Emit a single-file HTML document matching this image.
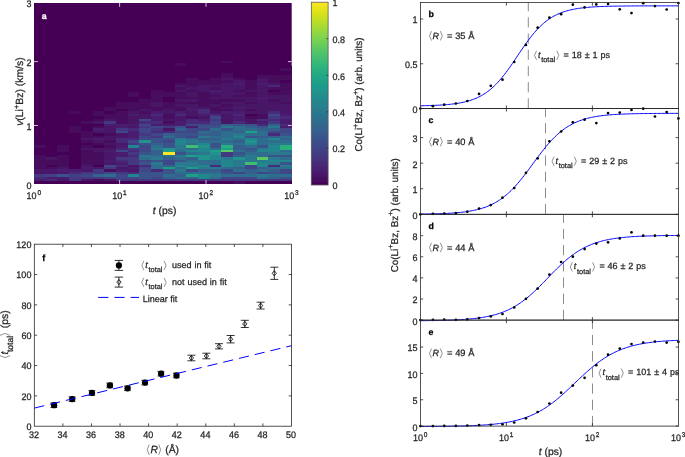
<!DOCTYPE html>
<html><head><meta charset="utf-8"><style>
html,body{margin:0;padding:0;background:#fff;}
svg{display:block;font-family:"Liberation Sans",sans-serif;text-rendering:geometricPrecision;}
</style></head><body>
<svg width="685" height="457" viewBox="0 0 685 457">
<rect width="685" height="457" fill="#fff"/>
<defs><filter id="soft" x="0" y="0" width="100%" height="100%" filterUnits="userSpaceOnUse"><feGaussianBlur stdDeviation="0.3"/></filter></defs>
<g filter="url(#soft)">
<rect x="34.0" y="3.0" width="257.70" height="180.80" fill="#440154"/>
<defs><filter id="hb" x="-2%" y="-2%" width="104%" height="104%"><feGaussianBlur stdDeviation="0.35"/></filter></defs>
<g filter="url(#hb)"><g shape-rendering="crispEdges">
<rect x="221.42" y="60.86" width="11.71" height="2.41" fill="#460a5d"/>
<rect x="174.56" y="63.27" width="11.71" height="2.41" fill="#46085c"/>
<rect x="221.42" y="63.27" width="11.71" height="2.41" fill="#450559"/>
<rect x="174.56" y="65.68" width="11.71" height="2.41" fill="#440256"/>
<rect x="221.42" y="65.68" width="11.71" height="2.41" fill="#450457"/>
<rect x="279.99" y="65.68" width="11.71" height="2.41" fill="#450457"/>
<rect x="174.56" y="68.09" width="11.71" height="2.41" fill="#440256"/>
<rect x="221.42" y="68.09" width="11.71" height="2.41" fill="#450457"/>
<rect x="279.99" y="68.09" width="11.71" height="2.41" fill="#460a5d"/>
<rect x="174.56" y="70.50" width="11.71" height="2.41" fill="#440256"/>
<rect x="221.42" y="70.50" width="11.71" height="2.41" fill="#450457"/>
<rect x="256.56" y="70.50" width="11.71" height="2.41" fill="#450457"/>
<rect x="279.99" y="70.50" width="11.71" height="2.41" fill="#450559"/>
<rect x="139.42" y="72.91" width="11.71" height="2.41" fill="#440256"/>
<rect x="174.56" y="72.91" width="11.71" height="2.41" fill="#440256"/>
<rect x="221.42" y="72.91" width="11.71" height="2.41" fill="#460a5d"/>
<rect x="233.13" y="72.91" width="11.71" height="2.41" fill="#440256"/>
<rect x="256.56" y="72.91" width="11.71" height="2.41" fill="#450559"/>
<rect x="268.27" y="72.91" width="11.71" height="2.41" fill="#450457"/>
<rect x="279.99" y="72.91" width="11.71" height="2.41" fill="#450559"/>
<rect x="139.42" y="75.32" width="11.71" height="2.41" fill="#440256"/>
<rect x="174.56" y="75.32" width="11.71" height="2.41" fill="#440256"/>
<rect x="186.28" y="75.32" width="11.71" height="2.41" fill="#450457"/>
<rect x="209.70" y="75.32" width="11.71" height="2.41" fill="#450559"/>
<rect x="221.42" y="75.32" width="11.71" height="2.41" fill="#46085c"/>
<rect x="233.13" y="75.32" width="11.71" height="2.41" fill="#450559"/>
<rect x="244.85" y="75.32" width="11.71" height="2.41" fill="#450457"/>
<rect x="256.56" y="75.32" width="11.71" height="2.41" fill="#460a5d"/>
<rect x="268.27" y="75.32" width="11.71" height="2.41" fill="#46085c"/>
<rect x="279.99" y="75.32" width="11.71" height="2.41" fill="#46085c"/>
<rect x="139.42" y="77.73" width="11.71" height="2.41" fill="#440256"/>
<rect x="174.56" y="77.73" width="11.71" height="2.41" fill="#440256"/>
<rect x="186.28" y="77.73" width="11.71" height="2.41" fill="#470e61"/>
<rect x="197.99" y="77.73" width="11.71" height="2.41" fill="#450559"/>
<rect x="209.70" y="77.73" width="11.71" height="2.41" fill="#470e61"/>
<rect x="221.42" y="77.73" width="11.71" height="2.41" fill="#48186a"/>
<rect x="233.13" y="77.73" width="11.71" height="2.41" fill="#46085c"/>
<rect x="244.85" y="77.73" width="11.71" height="2.41" fill="#450559"/>
<rect x="256.56" y="77.73" width="11.71" height="2.41" fill="#48186a"/>
<rect x="268.27" y="77.73" width="11.71" height="2.41" fill="#46085c"/>
<rect x="279.99" y="77.73" width="11.71" height="2.41" fill="#46085c"/>
<rect x="139.42" y="80.14" width="11.71" height="2.41" fill="#440256"/>
<rect x="174.56" y="80.14" width="11.71" height="2.41" fill="#450559"/>
<rect x="186.28" y="80.14" width="11.71" height="2.41" fill="#46085c"/>
<rect x="197.99" y="80.14" width="11.71" height="2.41" fill="#46085c"/>
<rect x="209.70" y="80.14" width="11.71" height="2.41" fill="#460a5d"/>
<rect x="221.42" y="80.14" width="11.71" height="2.41" fill="#470e61"/>
<rect x="233.13" y="80.14" width="11.71" height="2.41" fill="#48186a"/>
<rect x="244.85" y="80.14" width="11.71" height="2.41" fill="#46085c"/>
<rect x="256.56" y="80.14" width="11.71" height="2.41" fill="#48186a"/>
<rect x="268.27" y="80.14" width="11.71" height="2.41" fill="#460a5d"/>
<rect x="279.99" y="80.14" width="11.71" height="2.41" fill="#450559"/>
<rect x="139.42" y="82.55" width="11.71" height="2.41" fill="#440256"/>
<rect x="174.56" y="82.55" width="11.71" height="2.41" fill="#46085c"/>
<rect x="186.28" y="82.55" width="11.71" height="2.41" fill="#46085c"/>
<rect x="197.99" y="82.55" width="11.71" height="2.41" fill="#470e61"/>
<rect x="209.70" y="82.55" width="11.71" height="2.41" fill="#470e61"/>
<rect x="221.42" y="82.55" width="11.71" height="2.41" fill="#471365"/>
<rect x="233.13" y="82.55" width="11.71" height="2.41" fill="#481f70"/>
<rect x="244.85" y="82.55" width="11.71" height="2.41" fill="#46085c"/>
<rect x="256.56" y="82.55" width="11.71" height="2.41" fill="#481f70"/>
<rect x="268.27" y="82.55" width="11.71" height="2.41" fill="#471365"/>
<rect x="279.99" y="82.55" width="11.71" height="2.41" fill="#46085c"/>
<rect x="127.71" y="84.96" width="11.71" height="2.41" fill="#440256"/>
<rect x="139.42" y="84.96" width="11.71" height="2.41" fill="#440256"/>
<rect x="174.56" y="84.96" width="11.71" height="2.41" fill="#471365"/>
<rect x="186.28" y="84.96" width="11.71" height="2.41" fill="#470e61"/>
<rect x="197.99" y="84.96" width="11.71" height="2.41" fill="#48186a"/>
<rect x="209.70" y="84.96" width="11.71" height="2.41" fill="#471365"/>
<rect x="221.42" y="84.96" width="11.71" height="2.41" fill="#471365"/>
<rect x="233.13" y="84.96" width="11.71" height="2.41" fill="#48186a"/>
<rect x="244.85" y="84.96" width="11.71" height="2.41" fill="#470e61"/>
<rect x="256.56" y="84.96" width="11.71" height="2.41" fill="#48186a"/>
<rect x="268.27" y="84.96" width="11.71" height="2.41" fill="#472c7a"/>
<rect x="279.99" y="84.96" width="11.71" height="2.41" fill="#460a5d"/>
<rect x="127.71" y="87.37" width="11.71" height="2.41" fill="#450457"/>
<rect x="139.42" y="87.37" width="11.71" height="2.41" fill="#440256"/>
<rect x="151.14" y="87.37" width="11.71" height="2.41" fill="#450457"/>
<rect x="162.85" y="87.37" width="11.71" height="2.41" fill="#450457"/>
<rect x="174.56" y="87.37" width="11.71" height="2.41" fill="#470e61"/>
<rect x="186.28" y="87.37" width="11.71" height="2.41" fill="#471365"/>
<rect x="197.99" y="87.37" width="11.71" height="2.41" fill="#48186a"/>
<rect x="209.70" y="87.37" width="11.71" height="2.41" fill="#470e61"/>
<rect x="221.42" y="87.37" width="11.71" height="2.41" fill="#48186a"/>
<rect x="233.13" y="87.37" width="11.71" height="2.41" fill="#471365"/>
<rect x="244.85" y="87.37" width="11.71" height="2.41" fill="#460a5d"/>
<rect x="256.56" y="87.37" width="11.71" height="2.41" fill="#471365"/>
<rect x="268.27" y="87.37" width="11.71" height="2.41" fill="#470e61"/>
<rect x="279.99" y="87.37" width="11.71" height="2.41" fill="#46085c"/>
<rect x="127.71" y="89.78" width="11.71" height="2.41" fill="#450559"/>
<rect x="139.42" y="89.78" width="11.71" height="2.41" fill="#450457"/>
<rect x="151.14" y="89.78" width="11.71" height="2.41" fill="#460a5d"/>
<rect x="162.85" y="89.78" width="11.71" height="2.41" fill="#450559"/>
<rect x="174.56" y="89.78" width="11.71" height="2.41" fill="#471365"/>
<rect x="186.28" y="89.78" width="11.71" height="2.41" fill="#470e61"/>
<rect x="197.99" y="89.78" width="11.71" height="2.41" fill="#471365"/>
<rect x="209.70" y="89.78" width="11.71" height="2.41" fill="#481f70"/>
<rect x="221.42" y="89.78" width="11.71" height="2.41" fill="#48186a"/>
<rect x="233.13" y="89.78" width="11.71" height="2.41" fill="#470e61"/>
<rect x="244.85" y="89.78" width="11.71" height="2.41" fill="#471365"/>
<rect x="256.56" y="89.78" width="11.71" height="2.41" fill="#48186a"/>
<rect x="268.27" y="89.78" width="11.71" height="2.41" fill="#450559"/>
<rect x="279.99" y="89.78" width="11.71" height="2.41" fill="#470e61"/>
<rect x="104.28" y="92.19" width="11.71" height="2.41" fill="#440256"/>
<rect x="127.71" y="92.19" width="11.71" height="2.41" fill="#470e61"/>
<rect x="139.42" y="92.19" width="11.71" height="2.41" fill="#450457"/>
<rect x="151.14" y="92.19" width="11.71" height="2.41" fill="#46085c"/>
<rect x="162.85" y="92.19" width="11.71" height="2.41" fill="#46085c"/>
<rect x="174.56" y="92.19" width="11.71" height="2.41" fill="#460a5d"/>
<rect x="186.28" y="92.19" width="11.71" height="2.41" fill="#471365"/>
<rect x="197.99" y="92.19" width="11.71" height="2.41" fill="#460a5d"/>
<rect x="209.70" y="92.19" width="11.71" height="2.41" fill="#471365"/>
<rect x="221.42" y="92.19" width="11.71" height="2.41" fill="#471365"/>
<rect x="233.13" y="92.19" width="11.71" height="2.41" fill="#48186a"/>
<rect x="244.85" y="92.19" width="11.71" height="2.41" fill="#46085c"/>
<rect x="256.56" y="92.19" width="11.71" height="2.41" fill="#471365"/>
<rect x="268.27" y="92.19" width="11.71" height="2.41" fill="#46085c"/>
<rect x="279.99" y="92.19" width="11.71" height="2.41" fill="#470e61"/>
<rect x="104.28" y="94.61" width="11.71" height="2.41" fill="#440256"/>
<rect x="127.71" y="94.61" width="11.71" height="2.41" fill="#46085c"/>
<rect x="139.42" y="94.61" width="11.71" height="2.41" fill="#450457"/>
<rect x="151.14" y="94.61" width="11.71" height="2.41" fill="#470d60"/>
<rect x="162.85" y="94.61" width="11.71" height="2.41" fill="#460a5d"/>
<rect x="174.56" y="94.61" width="11.71" height="2.41" fill="#470e61"/>
<rect x="186.28" y="94.61" width="11.71" height="2.41" fill="#471365"/>
<rect x="197.99" y="94.61" width="11.71" height="2.41" fill="#46085c"/>
<rect x="209.70" y="94.61" width="11.71" height="2.41" fill="#470e61"/>
<rect x="221.42" y="94.61" width="11.71" height="2.41" fill="#48186a"/>
<rect x="233.13" y="94.61" width="11.71" height="2.41" fill="#470e61"/>
<rect x="244.85" y="94.61" width="11.71" height="2.41" fill="#470e61"/>
<rect x="256.56" y="94.61" width="11.71" height="2.41" fill="#471365"/>
<rect x="268.27" y="94.61" width="11.71" height="2.41" fill="#471365"/>
<rect x="279.99" y="94.61" width="11.71" height="2.41" fill="#471365"/>
<rect x="104.28" y="97.02" width="11.71" height="2.41" fill="#440256"/>
<rect x="127.71" y="97.02" width="11.71" height="2.41" fill="#450457"/>
<rect x="139.42" y="97.02" width="11.71" height="2.41" fill="#450559"/>
<rect x="151.14" y="97.02" width="11.71" height="2.41" fill="#460a5d"/>
<rect x="162.85" y="97.02" width="11.71" height="2.41" fill="#450559"/>
<rect x="174.56" y="97.02" width="11.71" height="2.41" fill="#46085c"/>
<rect x="186.28" y="97.02" width="11.71" height="2.41" fill="#470e61"/>
<rect x="197.99" y="97.02" width="11.71" height="2.41" fill="#460a5d"/>
<rect x="209.70" y="97.02" width="11.71" height="2.41" fill="#48186a"/>
<rect x="221.42" y="97.02" width="11.71" height="2.41" fill="#471365"/>
<rect x="233.13" y="97.02" width="11.71" height="2.41" fill="#471365"/>
<rect x="244.85" y="97.02" width="11.71" height="2.41" fill="#471365"/>
<rect x="256.56" y="97.02" width="11.71" height="2.41" fill="#481f70"/>
<rect x="268.27" y="97.02" width="11.71" height="2.41" fill="#471365"/>
<rect x="279.99" y="97.02" width="11.71" height="2.41" fill="#471365"/>
<rect x="104.28" y="99.43" width="11.71" height="2.41" fill="#440256"/>
<rect x="116.00" y="99.43" width="11.71" height="2.41" fill="#450559"/>
<rect x="127.71" y="99.43" width="11.71" height="2.41" fill="#450559"/>
<rect x="139.42" y="99.43" width="11.71" height="2.41" fill="#470e61"/>
<rect x="151.14" y="99.43" width="11.71" height="2.41" fill="#46085c"/>
<rect x="162.85" y="99.43" width="11.71" height="2.41" fill="#450559"/>
<rect x="174.56" y="99.43" width="11.71" height="2.41" fill="#471365"/>
<rect x="186.28" y="99.43" width="11.71" height="2.41" fill="#48186a"/>
<rect x="197.99" y="99.43" width="11.71" height="2.41" fill="#470e61"/>
<rect x="209.70" y="99.43" width="11.71" height="2.41" fill="#470e61"/>
<rect x="221.42" y="99.43" width="11.71" height="2.41" fill="#46085c"/>
<rect x="233.13" y="99.43" width="11.71" height="2.41" fill="#470e61"/>
<rect x="244.85" y="99.43" width="11.71" height="2.41" fill="#471365"/>
<rect x="256.56" y="99.43" width="11.71" height="2.41" fill="#48186a"/>
<rect x="268.27" y="99.43" width="11.71" height="2.41" fill="#470e61"/>
<rect x="279.99" y="99.43" width="11.71" height="2.41" fill="#471365"/>
<rect x="104.28" y="101.84" width="11.71" height="2.41" fill="#440256"/>
<rect x="116.00" y="101.84" width="11.71" height="2.41" fill="#460a5d"/>
<rect x="127.71" y="101.84" width="11.71" height="2.41" fill="#46085c"/>
<rect x="139.42" y="101.84" width="11.71" height="2.41" fill="#470e61"/>
<rect x="151.14" y="101.84" width="11.71" height="2.41" fill="#471365"/>
<rect x="162.85" y="101.84" width="11.71" height="2.41" fill="#46085c"/>
<rect x="174.56" y="101.84" width="11.71" height="2.41" fill="#470e61"/>
<rect x="186.28" y="101.84" width="11.71" height="2.41" fill="#460a5d"/>
<rect x="197.99" y="101.84" width="11.71" height="2.41" fill="#460a5d"/>
<rect x="209.70" y="101.84" width="11.71" height="2.41" fill="#460a5d"/>
<rect x="221.42" y="101.84" width="11.71" height="2.41" fill="#48186a"/>
<rect x="233.13" y="101.84" width="11.71" height="2.41" fill="#48186a"/>
<rect x="244.85" y="101.84" width="11.71" height="2.41" fill="#470e61"/>
<rect x="256.56" y="101.84" width="11.71" height="2.41" fill="#471365"/>
<rect x="268.27" y="101.84" width="11.71" height="2.41" fill="#471365"/>
<rect x="279.99" y="101.84" width="11.71" height="2.41" fill="#470e61"/>
<rect x="104.28" y="104.25" width="11.71" height="2.41" fill="#450457"/>
<rect x="116.00" y="104.25" width="11.71" height="2.41" fill="#46085c"/>
<rect x="127.71" y="104.25" width="11.71" height="2.41" fill="#470e61"/>
<rect x="139.42" y="104.25" width="11.71" height="2.41" fill="#46085c"/>
<rect x="151.14" y="104.25" width="11.71" height="2.41" fill="#471365"/>
<rect x="162.85" y="104.25" width="11.71" height="2.41" fill="#460a5d"/>
<rect x="174.56" y="104.25" width="11.71" height="2.41" fill="#471365"/>
<rect x="186.28" y="104.25" width="11.71" height="2.41" fill="#471365"/>
<rect x="197.99" y="104.25" width="11.71" height="2.41" fill="#470e61"/>
<rect x="209.70" y="104.25" width="11.71" height="2.41" fill="#471365"/>
<rect x="221.42" y="104.25" width="11.71" height="2.41" fill="#470e61"/>
<rect x="233.13" y="104.25" width="11.71" height="2.41" fill="#471365"/>
<rect x="244.85" y="104.25" width="11.71" height="2.41" fill="#471365"/>
<rect x="256.56" y="104.25" width="11.71" height="2.41" fill="#471365"/>
<rect x="268.27" y="104.25" width="11.71" height="2.41" fill="#48186a"/>
<rect x="279.99" y="104.25" width="11.71" height="2.41" fill="#471365"/>
<rect x="104.28" y="106.66" width="11.71" height="2.41" fill="#46085c"/>
<rect x="116.00" y="106.66" width="11.71" height="2.41" fill="#460a5d"/>
<rect x="127.71" y="106.66" width="11.71" height="2.41" fill="#46085c"/>
<rect x="139.42" y="106.66" width="11.71" height="2.41" fill="#460a5d"/>
<rect x="151.14" y="106.66" width="11.71" height="2.41" fill="#46085c"/>
<rect x="162.85" y="106.66" width="11.71" height="2.41" fill="#470e61"/>
<rect x="174.56" y="106.66" width="11.71" height="2.41" fill="#470d60"/>
<rect x="186.28" y="106.66" width="11.71" height="2.41" fill="#48186a"/>
<rect x="197.99" y="106.66" width="11.71" height="2.41" fill="#471365"/>
<rect x="209.70" y="106.66" width="11.71" height="2.41" fill="#46085c"/>
<rect x="221.42" y="106.66" width="11.71" height="2.41" fill="#471365"/>
<rect x="233.13" y="106.66" width="11.71" height="2.41" fill="#481f70"/>
<rect x="244.85" y="106.66" width="11.71" height="2.41" fill="#48186a"/>
<rect x="256.56" y="106.66" width="11.71" height="2.41" fill="#471365"/>
<rect x="268.27" y="106.66" width="11.71" height="2.41" fill="#471365"/>
<rect x="279.99" y="106.66" width="11.71" height="2.41" fill="#48186a"/>
<rect x="57.43" y="109.07" width="11.71" height="2.41" fill="#450457"/>
<rect x="69.14" y="109.07" width="11.71" height="2.41" fill="#450559"/>
<rect x="104.28" y="109.07" width="11.71" height="2.41" fill="#46085c"/>
<rect x="116.00" y="109.07" width="11.71" height="2.41" fill="#450559"/>
<rect x="127.71" y="109.07" width="11.71" height="2.41" fill="#460a5d"/>
<rect x="139.42" y="109.07" width="11.71" height="2.41" fill="#471365"/>
<rect x="151.14" y="109.07" width="11.71" height="2.41" fill="#470e61"/>
<rect x="162.85" y="109.07" width="11.71" height="2.41" fill="#471365"/>
<rect x="174.56" y="109.07" width="11.71" height="2.41" fill="#46085c"/>
<rect x="186.28" y="109.07" width="11.71" height="2.41" fill="#481f70"/>
<rect x="197.99" y="109.07" width="11.71" height="2.41" fill="#472c7a"/>
<rect x="209.70" y="109.07" width="11.71" height="2.41" fill="#470e61"/>
<rect x="221.42" y="109.07" width="11.71" height="2.41" fill="#470e61"/>
<rect x="233.13" y="109.07" width="11.71" height="2.41" fill="#48186a"/>
<rect x="244.85" y="109.07" width="11.71" height="2.41" fill="#46085c"/>
<rect x="256.56" y="109.07" width="11.71" height="2.41" fill="#48186a"/>
<rect x="268.27" y="109.07" width="11.71" height="2.41" fill="#48186a"/>
<rect x="279.99" y="109.07" width="11.71" height="2.41" fill="#48186a"/>
<rect x="45.71" y="111.48" width="11.71" height="2.41" fill="#450559"/>
<rect x="57.43" y="111.48" width="11.71" height="2.41" fill="#440256"/>
<rect x="69.14" y="111.48" width="11.71" height="2.41" fill="#46085c"/>
<rect x="92.57" y="111.48" width="11.71" height="2.41" fill="#46085c"/>
<rect x="104.28" y="111.48" width="11.71" height="2.41" fill="#450559"/>
<rect x="116.00" y="111.48" width="11.71" height="2.41" fill="#46085c"/>
<rect x="127.71" y="111.48" width="11.71" height="2.41" fill="#471365"/>
<rect x="139.42" y="111.48" width="11.71" height="2.41" fill="#470e61"/>
<rect x="151.14" y="111.48" width="11.71" height="2.41" fill="#481f70"/>
<rect x="162.85" y="111.48" width="11.71" height="2.41" fill="#471365"/>
<rect x="174.56" y="111.48" width="11.71" height="2.41" fill="#481f70"/>
<rect x="186.28" y="111.48" width="11.71" height="2.41" fill="#471365"/>
<rect x="197.99" y="111.48" width="11.71" height="2.41" fill="#472c7a"/>
<rect x="209.70" y="111.48" width="11.71" height="2.41" fill="#471365"/>
<rect x="221.42" y="111.48" width="11.71" height="2.41" fill="#481f70"/>
<rect x="233.13" y="111.48" width="11.71" height="2.41" fill="#481f70"/>
<rect x="244.85" y="111.48" width="11.71" height="2.41" fill="#471365"/>
<rect x="256.56" y="111.48" width="11.71" height="2.41" fill="#471365"/>
<rect x="268.27" y="111.48" width="11.71" height="2.41" fill="#472c7a"/>
<rect x="279.99" y="111.48" width="11.71" height="2.41" fill="#48186a"/>
<rect x="45.71" y="113.89" width="11.71" height="2.41" fill="#440256"/>
<rect x="57.43" y="113.89" width="11.71" height="2.41" fill="#450559"/>
<rect x="69.14" y="113.89" width="11.71" height="2.41" fill="#450457"/>
<rect x="80.85" y="113.89" width="11.71" height="2.41" fill="#450559"/>
<rect x="92.57" y="113.89" width="11.71" height="2.41" fill="#460a5d"/>
<rect x="104.28" y="113.89" width="11.71" height="2.41" fill="#46085c"/>
<rect x="116.00" y="113.89" width="11.71" height="2.41" fill="#470d60"/>
<rect x="127.71" y="113.89" width="11.71" height="2.41" fill="#481f70"/>
<rect x="139.42" y="113.89" width="11.71" height="2.41" fill="#471365"/>
<rect x="151.14" y="113.89" width="11.71" height="2.41" fill="#472c7a"/>
<rect x="162.85" y="113.89" width="11.71" height="2.41" fill="#46085c"/>
<rect x="174.56" y="113.89" width="11.71" height="2.41" fill="#472c7a"/>
<rect x="186.28" y="113.89" width="11.71" height="2.41" fill="#48186a"/>
<rect x="197.99" y="113.89" width="11.71" height="2.41" fill="#481f70"/>
<rect x="209.70" y="113.89" width="11.71" height="2.41" fill="#472c7a"/>
<rect x="221.42" y="113.89" width="11.71" height="2.41" fill="#471365"/>
<rect x="233.13" y="113.89" width="11.71" height="2.41" fill="#482677"/>
<rect x="244.85" y="113.89" width="11.71" height="2.41" fill="#450457"/>
<rect x="256.56" y="113.89" width="11.71" height="2.41" fill="#470e61"/>
<rect x="268.27" y="113.89" width="11.71" height="2.41" fill="#404688"/>
<rect x="279.99" y="113.89" width="11.71" height="2.41" fill="#481f70"/>
<rect x="34.00" y="116.30" width="11.71" height="2.41" fill="#440256"/>
<rect x="45.71" y="116.30" width="11.71" height="2.41" fill="#440256"/>
<rect x="57.43" y="116.30" width="11.71" height="2.41" fill="#440256"/>
<rect x="69.14" y="116.30" width="11.71" height="2.41" fill="#440256"/>
<rect x="80.85" y="116.30" width="11.71" height="2.41" fill="#450457"/>
<rect x="92.57" y="116.30" width="11.71" height="2.41" fill="#450559"/>
<rect x="104.28" y="116.30" width="11.71" height="2.41" fill="#470e61"/>
<rect x="116.00" y="116.30" width="11.71" height="2.41" fill="#460a5d"/>
<rect x="127.71" y="116.30" width="11.71" height="2.41" fill="#471365"/>
<rect x="139.42" y="116.30" width="11.71" height="2.41" fill="#471365"/>
<rect x="151.14" y="116.30" width="11.71" height="2.41" fill="#481f70"/>
<rect x="162.85" y="116.30" width="11.71" height="2.41" fill="#470e61"/>
<rect x="174.56" y="116.30" width="11.71" height="2.41" fill="#48186a"/>
<rect x="186.28" y="116.30" width="11.71" height="2.41" fill="#470e61"/>
<rect x="197.99" y="116.30" width="11.71" height="2.41" fill="#471365"/>
<rect x="209.70" y="116.30" width="11.71" height="2.41" fill="#404688"/>
<rect x="221.42" y="116.30" width="11.71" height="2.41" fill="#48186a"/>
<rect x="233.13" y="116.30" width="11.71" height="2.41" fill="#481f70"/>
<rect x="244.85" y="116.30" width="11.71" height="2.41" fill="#46085c"/>
<rect x="256.56" y="116.30" width="11.71" height="2.41" fill="#470e61"/>
<rect x="268.27" y="116.30" width="11.71" height="2.41" fill="#443983"/>
<rect x="279.99" y="116.30" width="11.71" height="2.41" fill="#472c7a"/>
<rect x="34.00" y="118.71" width="11.71" height="2.41" fill="#440256"/>
<rect x="45.71" y="118.71" width="11.71" height="2.41" fill="#440256"/>
<rect x="57.43" y="118.71" width="11.71" height="2.41" fill="#440256"/>
<rect x="69.14" y="118.71" width="11.71" height="2.41" fill="#450457"/>
<rect x="80.85" y="118.71" width="11.71" height="2.41" fill="#450559"/>
<rect x="92.57" y="118.71" width="11.71" height="2.41" fill="#46085c"/>
<rect x="104.28" y="118.71" width="11.71" height="2.41" fill="#471365"/>
<rect x="116.00" y="118.71" width="11.71" height="2.41" fill="#470e61"/>
<rect x="127.71" y="118.71" width="11.71" height="2.41" fill="#471365"/>
<rect x="139.42" y="118.71" width="11.71" height="2.41" fill="#404688"/>
<rect x="151.14" y="118.71" width="11.71" height="2.41" fill="#481f70"/>
<rect x="162.85" y="118.71" width="11.71" height="2.41" fill="#471365"/>
<rect x="174.56" y="118.71" width="11.71" height="2.41" fill="#471365"/>
<rect x="186.28" y="118.71" width="11.71" height="2.41" fill="#472c7a"/>
<rect x="197.99" y="118.71" width="11.71" height="2.41" fill="#481f70"/>
<rect x="209.70" y="118.71" width="11.71" height="2.41" fill="#443983"/>
<rect x="221.42" y="118.71" width="11.71" height="2.41" fill="#471365"/>
<rect x="233.13" y="118.71" width="11.71" height="2.41" fill="#481f70"/>
<rect x="244.85" y="118.71" width="11.71" height="2.41" fill="#471365"/>
<rect x="256.56" y="118.71" width="11.71" height="2.41" fill="#472c7a"/>
<rect x="268.27" y="118.71" width="11.71" height="2.41" fill="#472c7a"/>
<rect x="279.99" y="118.71" width="11.71" height="2.41" fill="#481f70"/>
<rect x="34.00" y="121.12" width="11.71" height="2.41" fill="#440256"/>
<rect x="45.71" y="121.12" width="11.71" height="2.41" fill="#440256"/>
<rect x="57.43" y="121.12" width="11.71" height="2.41" fill="#450457"/>
<rect x="69.14" y="121.12" width="11.71" height="2.41" fill="#450457"/>
<rect x="80.85" y="121.12" width="11.71" height="2.41" fill="#470e61"/>
<rect x="92.57" y="121.12" width="11.71" height="2.41" fill="#471365"/>
<rect x="104.28" y="121.12" width="11.71" height="2.41" fill="#443983"/>
<rect x="116.00" y="121.12" width="11.71" height="2.41" fill="#470e61"/>
<rect x="127.71" y="121.12" width="11.71" height="2.41" fill="#471365"/>
<rect x="139.42" y="121.12" width="11.71" height="2.41" fill="#472c7a"/>
<rect x="151.14" y="121.12" width="11.71" height="2.41" fill="#472c7a"/>
<rect x="162.85" y="121.12" width="11.71" height="2.41" fill="#46085c"/>
<rect x="174.56" y="121.12" width="11.71" height="2.41" fill="#481f70"/>
<rect x="186.28" y="121.12" width="11.71" height="2.41" fill="#472c7a"/>
<rect x="197.99" y="121.12" width="11.71" height="2.41" fill="#472c7a"/>
<rect x="209.70" y="121.12" width="11.71" height="2.41" fill="#404688"/>
<rect x="221.42" y="121.12" width="11.71" height="2.41" fill="#471365"/>
<rect x="233.13" y="121.12" width="11.71" height="2.41" fill="#472c7a"/>
<rect x="244.85" y="121.12" width="11.71" height="2.41" fill="#471365"/>
<rect x="256.56" y="121.12" width="11.71" height="2.41" fill="#481f70"/>
<rect x="268.27" y="121.12" width="11.71" height="2.41" fill="#443983"/>
<rect x="279.99" y="121.12" width="11.71" height="2.41" fill="#481f70"/>
<rect x="34.00" y="123.53" width="11.71" height="2.41" fill="#440256"/>
<rect x="45.71" y="123.53" width="11.71" height="2.41" fill="#440256"/>
<rect x="57.43" y="123.53" width="11.71" height="2.41" fill="#450457"/>
<rect x="69.14" y="123.53" width="11.71" height="2.41" fill="#450559"/>
<rect x="80.85" y="123.53" width="11.71" height="2.41" fill="#450457"/>
<rect x="92.57" y="123.53" width="11.71" height="2.41" fill="#450457"/>
<rect x="104.28" y="123.53" width="11.71" height="2.41" fill="#481f70"/>
<rect x="116.00" y="123.53" width="11.71" height="2.41" fill="#481f70"/>
<rect x="127.71" y="123.53" width="11.71" height="2.41" fill="#481f70"/>
<rect x="139.42" y="123.53" width="11.71" height="2.41" fill="#404688"/>
<rect x="151.14" y="123.53" width="11.71" height="2.41" fill="#481f70"/>
<rect x="162.85" y="123.53" width="11.71" height="2.41" fill="#481f70"/>
<rect x="174.56" y="123.53" width="11.71" height="2.41" fill="#481f70"/>
<rect x="186.28" y="123.53" width="11.71" height="2.41" fill="#404688"/>
<rect x="197.99" y="123.53" width="11.71" height="2.41" fill="#404688"/>
<rect x="209.70" y="123.53" width="11.71" height="2.41" fill="#404688"/>
<rect x="221.42" y="123.53" width="11.71" height="2.41" fill="#34608d"/>
<rect x="233.13" y="123.53" width="11.71" height="2.41" fill="#3a538b"/>
<rect x="244.85" y="123.53" width="11.71" height="2.41" fill="#3a538b"/>
<rect x="256.56" y="123.53" width="11.71" height="2.41" fill="#472c7a"/>
<rect x="268.27" y="123.53" width="11.71" height="2.41" fill="#34608d"/>
<rect x="279.99" y="123.53" width="11.71" height="2.41" fill="#472c7a"/>
<rect x="34.00" y="125.94" width="11.71" height="2.41" fill="#440256"/>
<rect x="45.71" y="125.94" width="11.71" height="2.41" fill="#440256"/>
<rect x="57.43" y="125.94" width="11.71" height="2.41" fill="#450457"/>
<rect x="69.14" y="125.94" width="11.71" height="2.41" fill="#460a5d"/>
<rect x="80.85" y="125.94" width="11.71" height="2.41" fill="#450559"/>
<rect x="92.57" y="125.94" width="11.71" height="2.41" fill="#460a5d"/>
<rect x="104.28" y="125.94" width="11.71" height="2.41" fill="#471365"/>
<rect x="116.00" y="125.94" width="11.71" height="2.41" fill="#481f70"/>
<rect x="127.71" y="125.94" width="11.71" height="2.41" fill="#48186a"/>
<rect x="139.42" y="125.94" width="11.71" height="2.41" fill="#443983"/>
<rect x="151.14" y="125.94" width="11.71" height="2.41" fill="#404688"/>
<rect x="162.85" y="125.94" width="11.71" height="2.41" fill="#443983"/>
<rect x="174.56" y="125.94" width="11.71" height="2.41" fill="#3a538b"/>
<rect x="186.28" y="125.94" width="11.71" height="2.41" fill="#481f70"/>
<rect x="197.99" y="125.94" width="11.71" height="2.41" fill="#3a538b"/>
<rect x="209.70" y="125.94" width="11.71" height="2.41" fill="#3a538b"/>
<rect x="221.42" y="125.94" width="11.71" height="2.41" fill="#29798e"/>
<rect x="233.13" y="125.94" width="11.71" height="2.41" fill="#2e6d8e"/>
<rect x="244.85" y="125.94" width="11.71" height="2.41" fill="#34608d"/>
<rect x="256.56" y="125.94" width="11.71" height="2.41" fill="#3a538b"/>
<rect x="268.27" y="125.94" width="11.71" height="2.41" fill="#29798e"/>
<rect x="279.99" y="125.94" width="11.71" height="2.41" fill="#481f70"/>
<rect x="34.00" y="128.35" width="11.71" height="2.41" fill="#440256"/>
<rect x="45.71" y="128.35" width="11.71" height="2.41" fill="#450457"/>
<rect x="57.43" y="128.35" width="11.71" height="2.41" fill="#450457"/>
<rect x="69.14" y="128.35" width="11.71" height="2.41" fill="#46085c"/>
<rect x="80.85" y="128.35" width="11.71" height="2.41" fill="#450559"/>
<rect x="92.57" y="128.35" width="11.71" height="2.41" fill="#481f70"/>
<rect x="104.28" y="128.35" width="11.71" height="2.41" fill="#48186a"/>
<rect x="116.00" y="128.35" width="11.71" height="2.41" fill="#443983"/>
<rect x="127.71" y="128.35" width="11.71" height="2.41" fill="#472c7a"/>
<rect x="139.42" y="128.35" width="11.71" height="2.41" fill="#404688"/>
<rect x="151.14" y="128.35" width="11.71" height="2.41" fill="#443983"/>
<rect x="162.85" y="128.35" width="11.71" height="2.41" fill="#471365"/>
<rect x="174.56" y="128.35" width="11.71" height="2.41" fill="#34608d"/>
<rect x="186.28" y="128.35" width="11.71" height="2.41" fill="#404688"/>
<rect x="197.99" y="128.35" width="11.71" height="2.41" fill="#404688"/>
<rect x="209.70" y="128.35" width="11.71" height="2.41" fill="#2e6d8e"/>
<rect x="221.42" y="128.35" width="11.71" height="2.41" fill="#3a538b"/>
<rect x="233.13" y="128.35" width="11.71" height="2.41" fill="#2e6d8e"/>
<rect x="244.85" y="128.35" width="11.71" height="2.41" fill="#2e6d8e"/>
<rect x="256.56" y="128.35" width="11.71" height="2.41" fill="#34608d"/>
<rect x="268.27" y="128.35" width="11.71" height="2.41" fill="#34608d"/>
<rect x="279.99" y="128.35" width="11.71" height="2.41" fill="#404688"/>
<rect x="34.00" y="130.77" width="11.71" height="2.41" fill="#450457"/>
<rect x="45.71" y="130.77" width="11.71" height="2.41" fill="#450457"/>
<rect x="57.43" y="130.77" width="11.71" height="2.41" fill="#450457"/>
<rect x="69.14" y="130.77" width="11.71" height="2.41" fill="#460a5d"/>
<rect x="80.85" y="130.77" width="11.71" height="2.41" fill="#46085c"/>
<rect x="92.57" y="130.77" width="11.71" height="2.41" fill="#471365"/>
<rect x="104.28" y="130.77" width="11.71" height="2.41" fill="#471365"/>
<rect x="116.00" y="130.77" width="11.71" height="2.41" fill="#404688"/>
<rect x="127.71" y="130.77" width="11.71" height="2.41" fill="#481f70"/>
<rect x="139.42" y="130.77" width="11.71" height="2.41" fill="#404688"/>
<rect x="151.14" y="130.77" width="11.71" height="2.41" fill="#472c7a"/>
<rect x="162.85" y="130.77" width="11.71" height="2.41" fill="#472c7a"/>
<rect x="174.56" y="130.77" width="11.71" height="2.41" fill="#404688"/>
<rect x="186.28" y="130.77" width="11.71" height="2.41" fill="#404688"/>
<rect x="197.99" y="130.77" width="11.71" height="2.41" fill="#2e6d8e"/>
<rect x="209.70" y="130.77" width="11.71" height="2.41" fill="#34608d"/>
<rect x="221.42" y="130.77" width="11.71" height="2.41" fill="#2e6d8e"/>
<rect x="233.13" y="130.77" width="11.71" height="2.41" fill="#34608d"/>
<rect x="244.85" y="130.77" width="11.71" height="2.41" fill="#1fa187"/>
<rect x="256.56" y="130.77" width="11.71" height="2.41" fill="#2e6d8e"/>
<rect x="268.27" y="130.77" width="11.71" height="2.41" fill="#404688"/>
<rect x="279.99" y="130.77" width="11.71" height="2.41" fill="#404688"/>
<rect x="34.00" y="133.18" width="11.71" height="2.41" fill="#450457"/>
<rect x="45.71" y="133.18" width="11.71" height="2.41" fill="#450457"/>
<rect x="57.43" y="133.18" width="11.71" height="2.41" fill="#450457"/>
<rect x="69.14" y="133.18" width="11.71" height="2.41" fill="#450457"/>
<rect x="80.85" y="133.18" width="11.71" height="2.41" fill="#46085c"/>
<rect x="92.57" y="133.18" width="11.71" height="2.41" fill="#450559"/>
<rect x="104.28" y="133.18" width="11.71" height="2.41" fill="#460a5d"/>
<rect x="116.00" y="133.18" width="11.71" height="2.41" fill="#48186a"/>
<rect x="127.71" y="133.18" width="11.71" height="2.41" fill="#481f70"/>
<rect x="139.42" y="133.18" width="11.71" height="2.41" fill="#443983"/>
<rect x="151.14" y="133.18" width="11.71" height="2.41" fill="#404688"/>
<rect x="162.85" y="133.18" width="11.71" height="2.41" fill="#34608d"/>
<rect x="174.56" y="133.18" width="11.71" height="2.41" fill="#3a538b"/>
<rect x="186.28" y="133.18" width="11.71" height="2.41" fill="#3a538b"/>
<rect x="197.99" y="133.18" width="11.71" height="2.41" fill="#34608d"/>
<rect x="209.70" y="133.18" width="11.71" height="2.41" fill="#34608d"/>
<rect x="221.42" y="133.18" width="11.71" height="2.41" fill="#2e6d8e"/>
<rect x="233.13" y="133.18" width="11.71" height="2.41" fill="#29798e"/>
<rect x="244.85" y="133.18" width="11.71" height="2.41" fill="#2e6d8e"/>
<rect x="256.56" y="133.18" width="11.71" height="2.41" fill="#2e6d8e"/>
<rect x="268.27" y="133.18" width="11.71" height="2.41" fill="#472c7a"/>
<rect x="279.99" y="133.18" width="11.71" height="2.41" fill="#3a538b"/>
<rect x="34.00" y="135.59" width="11.71" height="2.41" fill="#450559"/>
<rect x="45.71" y="135.59" width="11.71" height="2.41" fill="#450457"/>
<rect x="57.43" y="135.59" width="11.71" height="2.41" fill="#450457"/>
<rect x="69.14" y="135.59" width="11.71" height="2.41" fill="#450457"/>
<rect x="80.85" y="135.59" width="11.71" height="2.41" fill="#460a5d"/>
<rect x="92.57" y="135.59" width="11.71" height="2.41" fill="#470e61"/>
<rect x="104.28" y="135.59" width="11.71" height="2.41" fill="#471365"/>
<rect x="116.00" y="135.59" width="11.71" height="2.41" fill="#48186a"/>
<rect x="127.71" y="135.59" width="11.71" height="2.41" fill="#481f70"/>
<rect x="139.42" y="135.59" width="11.71" height="2.41" fill="#404688"/>
<rect x="151.14" y="135.59" width="11.71" height="2.41" fill="#443983"/>
<rect x="162.85" y="135.59" width="11.71" height="2.41" fill="#2e6d8e"/>
<rect x="174.56" y="135.59" width="11.71" height="2.41" fill="#3a538b"/>
<rect x="186.28" y="135.59" width="11.71" height="2.41" fill="#404688"/>
<rect x="197.99" y="135.59" width="11.71" height="2.41" fill="#29798e"/>
<rect x="209.70" y="135.59" width="11.71" height="2.41" fill="#2e6d8e"/>
<rect x="221.42" y="135.59" width="11.71" height="2.41" fill="#2e6d8e"/>
<rect x="233.13" y="135.59" width="11.71" height="2.41" fill="#24868e"/>
<rect x="244.85" y="135.59" width="11.71" height="2.41" fill="#3a538b"/>
<rect x="256.56" y="135.59" width="11.71" height="2.41" fill="#34608d"/>
<rect x="268.27" y="135.59" width="11.71" height="2.41" fill="#34608d"/>
<rect x="279.99" y="135.59" width="11.71" height="2.41" fill="#2e6d8e"/>
<rect x="34.00" y="138.00" width="11.71" height="2.41" fill="#450457"/>
<rect x="45.71" y="138.00" width="11.71" height="2.41" fill="#450457"/>
<rect x="57.43" y="138.00" width="11.71" height="2.41" fill="#450457"/>
<rect x="69.14" y="138.00" width="11.71" height="2.41" fill="#450457"/>
<rect x="80.85" y="138.00" width="11.71" height="2.41" fill="#48186a"/>
<rect x="92.57" y="138.00" width="11.71" height="2.41" fill="#481f70"/>
<rect x="104.28" y="138.00" width="11.71" height="2.41" fill="#48186a"/>
<rect x="116.00" y="138.00" width="11.71" height="2.41" fill="#472c7a"/>
<rect x="127.71" y="138.00" width="11.71" height="2.41" fill="#472c7a"/>
<rect x="139.42" y="138.00" width="11.71" height="2.41" fill="#404688"/>
<rect x="151.14" y="138.00" width="11.71" height="2.41" fill="#3a538b"/>
<rect x="162.85" y="138.00" width="11.71" height="2.41" fill="#3a538b"/>
<rect x="174.56" y="138.00" width="11.71" height="2.41" fill="#29798e"/>
<rect x="186.28" y="138.00" width="11.71" height="2.41" fill="#2e6d8e"/>
<rect x="197.99" y="138.00" width="11.71" height="2.41" fill="#34608d"/>
<rect x="209.70" y="138.00" width="11.71" height="2.41" fill="#34608d"/>
<rect x="221.42" y="138.00" width="11.71" height="2.41" fill="#29798e"/>
<rect x="233.13" y="138.00" width="11.71" height="2.41" fill="#2e6d8e"/>
<rect x="244.85" y="138.00" width="11.71" height="2.41" fill="#24868e"/>
<rect x="256.56" y="138.00" width="11.71" height="2.41" fill="#2e6d8e"/>
<rect x="268.27" y="138.00" width="11.71" height="2.41" fill="#24868e"/>
<rect x="279.99" y="138.00" width="11.71" height="2.41" fill="#34608d"/>
<rect x="34.00" y="140.41" width="11.71" height="2.41" fill="#450457"/>
<rect x="45.71" y="140.41" width="11.71" height="2.41" fill="#450457"/>
<rect x="57.43" y="140.41" width="11.71" height="2.41" fill="#450457"/>
<rect x="69.14" y="140.41" width="11.71" height="2.41" fill="#440256"/>
<rect x="80.85" y="140.41" width="11.71" height="2.41" fill="#46085c"/>
<rect x="92.57" y="140.41" width="11.71" height="2.41" fill="#471365"/>
<rect x="104.28" y="140.41" width="11.71" height="2.41" fill="#46085c"/>
<rect x="116.00" y="140.41" width="11.71" height="2.41" fill="#472c7a"/>
<rect x="127.71" y="140.41" width="11.71" height="2.41" fill="#404688"/>
<rect x="139.42" y="140.41" width="11.71" height="2.41" fill="#20938c"/>
<rect x="151.14" y="140.41" width="11.71" height="2.41" fill="#3a538b"/>
<rect x="162.85" y="140.41" width="11.71" height="2.41" fill="#404688"/>
<rect x="174.56" y="140.41" width="11.71" height="2.41" fill="#24868e"/>
<rect x="186.28" y="140.41" width="11.71" height="2.41" fill="#29798e"/>
<rect x="197.99" y="140.41" width="11.71" height="2.41" fill="#2e6d8e"/>
<rect x="209.70" y="140.41" width="11.71" height="2.41" fill="#2e6d8e"/>
<rect x="221.42" y="140.41" width="11.71" height="2.41" fill="#2e6d8e"/>
<rect x="233.13" y="140.41" width="11.71" height="2.41" fill="#34608d"/>
<rect x="244.85" y="140.41" width="11.71" height="2.41" fill="#20938c"/>
<rect x="256.56" y="140.41" width="11.71" height="2.41" fill="#2e6d8e"/>
<rect x="268.27" y="140.41" width="11.71" height="2.41" fill="#2e6d8e"/>
<rect x="279.99" y="140.41" width="11.71" height="2.41" fill="#2e6d8e"/>
<rect x="34.00" y="142.82" width="11.71" height="2.41" fill="#450559"/>
<rect x="45.71" y="142.82" width="11.71" height="2.41" fill="#450457"/>
<rect x="57.43" y="142.82" width="11.71" height="2.41" fill="#450457"/>
<rect x="69.14" y="142.82" width="11.71" height="2.41" fill="#450457"/>
<rect x="80.85" y="142.82" width="11.71" height="2.41" fill="#450559"/>
<rect x="92.57" y="142.82" width="11.71" height="2.41" fill="#460a5d"/>
<rect x="104.28" y="142.82" width="11.71" height="2.41" fill="#471365"/>
<rect x="116.00" y="142.82" width="11.71" height="2.41" fill="#48186a"/>
<rect x="127.71" y="142.82" width="11.71" height="2.41" fill="#443983"/>
<rect x="139.42" y="142.82" width="11.71" height="2.41" fill="#3a538b"/>
<rect x="151.14" y="142.82" width="11.71" height="2.41" fill="#34608d"/>
<rect x="162.85" y="142.82" width="11.71" height="2.41" fill="#3a538b"/>
<rect x="174.56" y="142.82" width="11.71" height="2.41" fill="#24868e"/>
<rect x="186.28" y="142.82" width="11.71" height="2.41" fill="#2e6d8e"/>
<rect x="197.99" y="142.82" width="11.71" height="2.41" fill="#24868e"/>
<rect x="209.70" y="142.82" width="11.71" height="2.41" fill="#3a538b"/>
<rect x="221.42" y="142.82" width="11.71" height="2.41" fill="#29798e"/>
<rect x="233.13" y="142.82" width="11.71" height="2.41" fill="#2e6d8e"/>
<rect x="244.85" y="142.82" width="11.71" height="2.41" fill="#24868e"/>
<rect x="256.56" y="142.82" width="11.71" height="2.41" fill="#2e6d8e"/>
<rect x="268.27" y="142.82" width="11.71" height="2.41" fill="#29798e"/>
<rect x="279.99" y="142.82" width="11.71" height="2.41" fill="#29798e"/>
<rect x="34.00" y="145.23" width="11.71" height="2.41" fill="#46085c"/>
<rect x="45.71" y="145.23" width="11.71" height="2.41" fill="#450457"/>
<rect x="57.43" y="145.23" width="11.71" height="2.41" fill="#46085c"/>
<rect x="69.14" y="145.23" width="11.71" height="2.41" fill="#450457"/>
<rect x="80.85" y="145.23" width="11.71" height="2.41" fill="#46085c"/>
<rect x="92.57" y="145.23" width="11.71" height="2.41" fill="#450457"/>
<rect x="104.28" y="145.23" width="11.71" height="2.41" fill="#470e61"/>
<rect x="116.00" y="145.23" width="11.71" height="2.41" fill="#481f70"/>
<rect x="127.71" y="145.23" width="11.71" height="2.41" fill="#24868e"/>
<rect x="139.42" y="145.23" width="11.71" height="2.41" fill="#404688"/>
<rect x="151.14" y="145.23" width="11.71" height="2.41" fill="#2e6d8e"/>
<rect x="162.85" y="145.23" width="11.71" height="2.41" fill="#3a538b"/>
<rect x="174.56" y="145.23" width="11.71" height="2.41" fill="#29798e"/>
<rect x="186.28" y="145.23" width="11.71" height="2.41" fill="#3fbc73"/>
<rect x="197.99" y="145.23" width="11.71" height="2.41" fill="#20938c"/>
<rect x="209.70" y="145.23" width="11.71" height="2.41" fill="#3a538b"/>
<rect x="221.42" y="145.23" width="11.71" height="2.41" fill="#29af7f"/>
<rect x="233.13" y="145.23" width="11.71" height="2.41" fill="#34608d"/>
<rect x="244.85" y="145.23" width="11.71" height="2.41" fill="#2e6d8e"/>
<rect x="256.56" y="145.23" width="11.71" height="2.41" fill="#3a538b"/>
<rect x="268.27" y="145.23" width="11.71" height="2.41" fill="#24868e"/>
<rect x="279.99" y="145.23" width="11.71" height="2.41" fill="#29af7f"/>
<rect x="34.00" y="147.64" width="11.71" height="2.41" fill="#450559"/>
<rect x="45.71" y="147.64" width="11.71" height="2.41" fill="#450457"/>
<rect x="57.43" y="147.64" width="11.71" height="2.41" fill="#460a5d"/>
<rect x="69.14" y="147.64" width="11.71" height="2.41" fill="#440256"/>
<rect x="80.85" y="147.64" width="11.71" height="2.41" fill="#471365"/>
<rect x="92.57" y="147.64" width="11.71" height="2.41" fill="#48186a"/>
<rect x="104.28" y="147.64" width="11.71" height="2.41" fill="#471365"/>
<rect x="116.00" y="147.64" width="11.71" height="2.41" fill="#482677"/>
<rect x="127.71" y="147.64" width="11.71" height="2.41" fill="#443983"/>
<rect x="139.42" y="147.64" width="11.71" height="2.41" fill="#404688"/>
<rect x="151.14" y="147.64" width="11.71" height="2.41" fill="#29798e"/>
<rect x="162.85" y="147.64" width="11.71" height="2.41" fill="#20938c"/>
<rect x="174.56" y="147.64" width="11.71" height="2.41" fill="#29798e"/>
<rect x="186.28" y="147.64" width="11.71" height="2.41" fill="#2e6d8e"/>
<rect x="197.99" y="147.64" width="11.71" height="2.41" fill="#24868e"/>
<rect x="209.70" y="147.64" width="11.71" height="2.41" fill="#2e6d8e"/>
<rect x="221.42" y="147.64" width="11.71" height="2.41" fill="#1fa187"/>
<rect x="233.13" y="147.64" width="11.71" height="2.41" fill="#34608d"/>
<rect x="244.85" y="147.64" width="11.71" height="2.41" fill="#3a538b"/>
<rect x="256.56" y="147.64" width="11.71" height="2.41" fill="#29798e"/>
<rect x="268.27" y="147.64" width="11.71" height="2.41" fill="#24868e"/>
<rect x="279.99" y="147.64" width="11.71" height="2.41" fill="#29af7f"/>
<rect x="34.00" y="150.05" width="11.71" height="2.41" fill="#450559"/>
<rect x="45.71" y="150.05" width="11.71" height="2.41" fill="#450457"/>
<rect x="57.43" y="150.05" width="11.71" height="2.41" fill="#470e61"/>
<rect x="69.14" y="150.05" width="11.71" height="2.41" fill="#450457"/>
<rect x="80.85" y="150.05" width="11.71" height="2.41" fill="#460a5d"/>
<rect x="92.57" y="150.05" width="11.71" height="2.41" fill="#471365"/>
<rect x="104.28" y="150.05" width="11.71" height="2.41" fill="#481f70"/>
<rect x="116.00" y="150.05" width="11.71" height="2.41" fill="#404688"/>
<rect x="127.71" y="150.05" width="11.71" height="2.41" fill="#472c7a"/>
<rect x="139.42" y="150.05" width="11.71" height="2.41" fill="#404688"/>
<rect x="151.14" y="150.05" width="11.71" height="2.41" fill="#34608d"/>
<rect x="162.85" y="150.05" width="11.71" height="2.41" fill="#1fa187"/>
<rect x="174.56" y="150.05" width="11.71" height="2.41" fill="#2e6d8e"/>
<rect x="186.28" y="150.05" width="11.71" height="2.41" fill="#24868e"/>
<rect x="197.99" y="150.05" width="11.71" height="2.41" fill="#24868e"/>
<rect x="209.70" y="150.05" width="11.71" height="2.41" fill="#1fa187"/>
<rect x="221.42" y="150.05" width="11.71" height="2.41" fill="#5cc863"/>
<rect x="233.13" y="150.05" width="11.71" height="2.41" fill="#2e6d8e"/>
<rect x="244.85" y="150.05" width="11.71" height="2.41" fill="#34608d"/>
<rect x="256.56" y="150.05" width="11.71" height="2.41" fill="#24868e"/>
<rect x="268.27" y="150.05" width="11.71" height="2.41" fill="#24868e"/>
<rect x="279.99" y="150.05" width="11.71" height="2.41" fill="#2e6d8e"/>
<rect x="34.00" y="152.46" width="11.71" height="2.41" fill="#450559"/>
<rect x="45.71" y="152.46" width="11.71" height="2.41" fill="#450559"/>
<rect x="57.43" y="152.46" width="11.71" height="2.41" fill="#450559"/>
<rect x="69.14" y="152.46" width="11.71" height="2.41" fill="#450457"/>
<rect x="80.85" y="152.46" width="11.71" height="2.41" fill="#46085c"/>
<rect x="92.57" y="152.46" width="11.71" height="2.41" fill="#460a5d"/>
<rect x="104.28" y="152.46" width="11.71" height="2.41" fill="#48186a"/>
<rect x="116.00" y="152.46" width="11.71" height="2.41" fill="#481f70"/>
<rect x="127.71" y="152.46" width="11.71" height="2.41" fill="#443983"/>
<rect x="139.42" y="152.46" width="11.71" height="2.41" fill="#3a538b"/>
<rect x="151.14" y="152.46" width="11.71" height="2.41" fill="#34608d"/>
<rect x="162.85" y="152.46" width="11.71" height="2.41" fill="#fde725"/>
<rect x="174.56" y="152.46" width="11.71" height="2.41" fill="#3a538b"/>
<rect x="186.28" y="152.46" width="11.71" height="2.41" fill="#2e6d8e"/>
<rect x="197.99" y="152.46" width="11.71" height="2.41" fill="#29798e"/>
<rect x="209.70" y="152.46" width="11.71" height="2.41" fill="#20938c"/>
<rect x="221.42" y="152.46" width="11.71" height="2.41" fill="#443983"/>
<rect x="233.13" y="152.46" width="11.71" height="2.41" fill="#3a538b"/>
<rect x="244.85" y="152.46" width="11.71" height="2.41" fill="#2e6d8e"/>
<rect x="256.56" y="152.46" width="11.71" height="2.41" fill="#2e6d8e"/>
<rect x="268.27" y="152.46" width="11.71" height="2.41" fill="#29798e"/>
<rect x="279.99" y="152.46" width="11.71" height="2.41" fill="#29798e"/>
<rect x="34.00" y="154.87" width="11.71" height="2.41" fill="#46085c"/>
<rect x="45.71" y="154.87" width="11.71" height="2.41" fill="#450559"/>
<rect x="57.43" y="154.87" width="11.71" height="2.41" fill="#46085c"/>
<rect x="69.14" y="154.87" width="11.71" height="2.41" fill="#450457"/>
<rect x="80.85" y="154.87" width="11.71" height="2.41" fill="#460a5d"/>
<rect x="92.57" y="154.87" width="11.71" height="2.41" fill="#470e61"/>
<rect x="104.28" y="154.87" width="11.71" height="2.41" fill="#48186a"/>
<rect x="116.00" y="154.87" width="11.71" height="2.41" fill="#481f70"/>
<rect x="127.71" y="154.87" width="11.71" height="2.41" fill="#472c7a"/>
<rect x="139.42" y="154.87" width="11.71" height="2.41" fill="#29798e"/>
<rect x="151.14" y="154.87" width="11.71" height="2.41" fill="#2e6d8e"/>
<rect x="162.85" y="154.87" width="11.71" height="2.41" fill="#2e6d8e"/>
<rect x="174.56" y="154.87" width="11.71" height="2.41" fill="#29798e"/>
<rect x="186.28" y="154.87" width="11.71" height="2.41" fill="#1fa187"/>
<rect x="197.99" y="154.87" width="11.71" height="2.41" fill="#20938c"/>
<rect x="209.70" y="154.87" width="11.71" height="2.41" fill="#24868e"/>
<rect x="221.42" y="154.87" width="11.71" height="2.41" fill="#443983"/>
<rect x="233.13" y="154.87" width="11.71" height="2.41" fill="#34608d"/>
<rect x="244.85" y="154.87" width="11.71" height="2.41" fill="#29798e"/>
<rect x="256.56" y="154.87" width="11.71" height="2.41" fill="#2e6d8e"/>
<rect x="268.27" y="154.87" width="11.71" height="2.41" fill="#3a538b"/>
<rect x="279.99" y="154.87" width="11.71" height="2.41" fill="#3a538b"/>
<rect x="34.00" y="157.28" width="11.71" height="2.41" fill="#470e61"/>
<rect x="45.71" y="157.28" width="11.71" height="2.41" fill="#471365"/>
<rect x="57.43" y="157.28" width="11.71" height="2.41" fill="#46085c"/>
<rect x="69.14" y="157.28" width="11.71" height="2.41" fill="#450457"/>
<rect x="80.85" y="157.28" width="11.71" height="2.41" fill="#460a5d"/>
<rect x="92.57" y="157.28" width="11.71" height="2.41" fill="#470e61"/>
<rect x="104.28" y="157.28" width="11.71" height="2.41" fill="#48186a"/>
<rect x="116.00" y="157.28" width="11.71" height="2.41" fill="#443983"/>
<rect x="127.71" y="157.28" width="11.71" height="2.41" fill="#443983"/>
<rect x="139.42" y="157.28" width="11.71" height="2.41" fill="#2e6d8e"/>
<rect x="151.14" y="157.28" width="11.71" height="2.41" fill="#29798e"/>
<rect x="162.85" y="157.28" width="11.71" height="2.41" fill="#34608d"/>
<rect x="174.56" y="157.28" width="11.71" height="2.41" fill="#2e6d8e"/>
<rect x="186.28" y="157.28" width="11.71" height="2.41" fill="#34608d"/>
<rect x="197.99" y="157.28" width="11.71" height="2.41" fill="#20938c"/>
<rect x="209.70" y="157.28" width="11.71" height="2.41" fill="#24868e"/>
<rect x="221.42" y="157.28" width="11.71" height="2.41" fill="#29798e"/>
<rect x="233.13" y="157.28" width="11.71" height="2.41" fill="#20938c"/>
<rect x="244.85" y="157.28" width="11.71" height="2.41" fill="#29798e"/>
<rect x="256.56" y="157.28" width="11.71" height="2.41" fill="#5cc863"/>
<rect x="268.27" y="157.28" width="11.71" height="2.41" fill="#29798e"/>
<rect x="279.99" y="157.28" width="11.71" height="2.41" fill="#2e6d8e"/>
<rect x="34.00" y="159.69" width="11.71" height="2.41" fill="#46085c"/>
<rect x="45.71" y="159.69" width="11.71" height="2.41" fill="#460a5d"/>
<rect x="57.43" y="159.69" width="11.71" height="2.41" fill="#46085c"/>
<rect x="69.14" y="159.69" width="11.71" height="2.41" fill="#450457"/>
<rect x="80.85" y="159.69" width="11.71" height="2.41" fill="#46085c"/>
<rect x="92.57" y="159.69" width="11.71" height="2.41" fill="#470e61"/>
<rect x="104.28" y="159.69" width="11.71" height="2.41" fill="#481f70"/>
<rect x="116.00" y="159.69" width="11.71" height="2.41" fill="#472c7a"/>
<rect x="127.71" y="159.69" width="11.71" height="2.41" fill="#443983"/>
<rect x="139.42" y="159.69" width="11.71" height="2.41" fill="#404688"/>
<rect x="151.14" y="159.69" width="11.71" height="2.41" fill="#3a538b"/>
<rect x="162.85" y="159.69" width="11.71" height="2.41" fill="#404688"/>
<rect x="174.56" y="159.69" width="11.71" height="2.41" fill="#3a538b"/>
<rect x="186.28" y="159.69" width="11.71" height="2.41" fill="#2e6d8e"/>
<rect x="197.99" y="159.69" width="11.71" height="2.41" fill="#2e6d8e"/>
<rect x="209.70" y="159.69" width="11.71" height="2.41" fill="#2e6d8e"/>
<rect x="221.42" y="159.69" width="11.71" height="2.41" fill="#24868e"/>
<rect x="233.13" y="159.69" width="11.71" height="2.41" fill="#29798e"/>
<rect x="244.85" y="159.69" width="11.71" height="2.41" fill="#29798e"/>
<rect x="256.56" y="159.69" width="11.71" height="2.41" fill="#29798e"/>
<rect x="268.27" y="159.69" width="11.71" height="2.41" fill="#24868e"/>
<rect x="279.99" y="159.69" width="11.71" height="2.41" fill="#24868e"/>
<rect x="34.00" y="162.10" width="11.71" height="2.41" fill="#460a5d"/>
<rect x="45.71" y="162.10" width="11.71" height="2.41" fill="#460a5d"/>
<rect x="57.43" y="162.10" width="11.71" height="2.41" fill="#460a5d"/>
<rect x="69.14" y="162.10" width="11.71" height="2.41" fill="#450457"/>
<rect x="80.85" y="162.10" width="11.71" height="2.41" fill="#470e61"/>
<rect x="92.57" y="162.10" width="11.71" height="2.41" fill="#46085c"/>
<rect x="104.28" y="162.10" width="11.71" height="2.41" fill="#48186a"/>
<rect x="116.00" y="162.10" width="11.71" height="2.41" fill="#481f70"/>
<rect x="127.71" y="162.10" width="11.71" height="2.41" fill="#443983"/>
<rect x="139.42" y="162.10" width="11.71" height="2.41" fill="#3a538b"/>
<rect x="151.14" y="162.10" width="11.71" height="2.41" fill="#29798e"/>
<rect x="162.85" y="162.10" width="11.71" height="2.41" fill="#404688"/>
<rect x="174.56" y="162.10" width="11.71" height="2.41" fill="#29798e"/>
<rect x="186.28" y="162.10" width="11.71" height="2.41" fill="#29798e"/>
<rect x="197.99" y="162.10" width="11.71" height="2.41" fill="#2e6d8e"/>
<rect x="209.70" y="162.10" width="11.71" height="2.41" fill="#2e6d8e"/>
<rect x="221.42" y="162.10" width="11.71" height="2.41" fill="#24868e"/>
<rect x="233.13" y="162.10" width="11.71" height="2.41" fill="#29798e"/>
<rect x="244.85" y="162.10" width="11.71" height="2.41" fill="#3fbc73"/>
<rect x="256.56" y="162.10" width="11.71" height="2.41" fill="#24868e"/>
<rect x="268.27" y="162.10" width="11.71" height="2.41" fill="#29798e"/>
<rect x="279.99" y="162.10" width="11.71" height="2.41" fill="#3a538b"/>
<rect x="34.00" y="164.51" width="11.71" height="2.41" fill="#470e61"/>
<rect x="45.71" y="164.51" width="11.71" height="2.41" fill="#450559"/>
<rect x="57.43" y="164.51" width="11.71" height="2.41" fill="#460a5d"/>
<rect x="69.14" y="164.51" width="11.71" height="2.41" fill="#440256"/>
<rect x="80.85" y="164.51" width="11.71" height="2.41" fill="#48186a"/>
<rect x="92.57" y="164.51" width="11.71" height="2.41" fill="#450457"/>
<rect x="104.28" y="164.51" width="11.71" height="2.41" fill="#404688"/>
<rect x="116.00" y="164.51" width="11.71" height="2.41" fill="#472c7a"/>
<rect x="127.71" y="164.51" width="11.71" height="2.41" fill="#48186a"/>
<rect x="139.42" y="164.51" width="11.71" height="2.41" fill="#472c7a"/>
<rect x="151.14" y="164.51" width="11.71" height="2.41" fill="#2e6d8e"/>
<rect x="162.85" y="164.51" width="11.71" height="2.41" fill="#34608d"/>
<rect x="174.56" y="164.51" width="11.71" height="2.41" fill="#24868e"/>
<rect x="186.28" y="164.51" width="11.71" height="2.41" fill="#29798e"/>
<rect x="197.99" y="164.51" width="11.71" height="2.41" fill="#24868e"/>
<rect x="209.70" y="164.51" width="11.71" height="2.41" fill="#472c7a"/>
<rect x="221.42" y="164.51" width="11.71" height="2.41" fill="#24868e"/>
<rect x="233.13" y="164.51" width="11.71" height="2.41" fill="#29798e"/>
<rect x="244.85" y="164.51" width="11.71" height="2.41" fill="#404688"/>
<rect x="256.56" y="164.51" width="11.71" height="2.41" fill="#24868e"/>
<rect x="268.27" y="164.51" width="11.71" height="2.41" fill="#472c7a"/>
<rect x="279.99" y="164.51" width="11.71" height="2.41" fill="#29798e"/>
<rect x="34.00" y="166.93" width="11.71" height="2.41" fill="#470e61"/>
<rect x="45.71" y="166.93" width="11.71" height="2.41" fill="#470e61"/>
<rect x="57.43" y="166.93" width="11.71" height="2.41" fill="#471365"/>
<rect x="69.14" y="166.93" width="11.71" height="2.41" fill="#450559"/>
<rect x="80.85" y="166.93" width="11.71" height="2.41" fill="#481f70"/>
<rect x="92.57" y="166.93" width="11.71" height="2.41" fill="#48186a"/>
<rect x="104.28" y="166.93" width="11.71" height="2.41" fill="#443983"/>
<rect x="116.00" y="166.93" width="11.71" height="2.41" fill="#48186a"/>
<rect x="127.71" y="166.93" width="11.71" height="2.41" fill="#481f70"/>
<rect x="139.42" y="166.93" width="11.71" height="2.41" fill="#404688"/>
<rect x="151.14" y="166.93" width="11.71" height="2.41" fill="#2e6d8e"/>
<rect x="162.85" y="166.93" width="11.71" height="2.41" fill="#1fa187"/>
<rect x="174.56" y="166.93" width="11.71" height="2.41" fill="#2e6d8e"/>
<rect x="186.28" y="166.93" width="11.71" height="2.41" fill="#1fa187"/>
<rect x="197.99" y="166.93" width="11.71" height="2.41" fill="#29798e"/>
<rect x="209.70" y="166.93" width="11.71" height="2.41" fill="#29798e"/>
<rect x="221.42" y="166.93" width="11.71" height="2.41" fill="#2e6d8e"/>
<rect x="233.13" y="166.93" width="11.71" height="2.41" fill="#34608d"/>
<rect x="244.85" y="166.93" width="11.71" height="2.41" fill="#404688"/>
<rect x="256.56" y="166.93" width="11.71" height="2.41" fill="#34608d"/>
<rect x="268.27" y="166.93" width="11.71" height="2.41" fill="#2e6d8e"/>
<rect x="279.99" y="166.93" width="11.71" height="2.41" fill="#2e6d8e"/>
<rect x="34.00" y="169.34" width="11.71" height="2.41" fill="#48186a"/>
<rect x="45.71" y="169.34" width="11.71" height="2.41" fill="#48186a"/>
<rect x="57.43" y="169.34" width="11.71" height="2.41" fill="#481f70"/>
<rect x="69.14" y="169.34" width="11.71" height="2.41" fill="#481f70"/>
<rect x="80.85" y="169.34" width="11.71" height="2.41" fill="#48186a"/>
<rect x="92.57" y="169.34" width="11.71" height="2.41" fill="#443983"/>
<rect x="104.28" y="169.34" width="11.71" height="2.41" fill="#46085c"/>
<rect x="116.00" y="169.34" width="11.71" height="2.41" fill="#481f70"/>
<rect x="127.71" y="169.34" width="11.71" height="2.41" fill="#48186a"/>
<rect x="139.42" y="169.34" width="11.71" height="2.41" fill="#404688"/>
<rect x="151.14" y="169.34" width="11.71" height="2.41" fill="#472c7a"/>
<rect x="162.85" y="169.34" width="11.71" height="2.41" fill="#3a538b"/>
<rect x="174.56" y="169.34" width="11.71" height="2.41" fill="#29798e"/>
<rect x="186.28" y="169.34" width="11.71" height="2.41" fill="#404688"/>
<rect x="197.99" y="169.34" width="11.71" height="2.41" fill="#34608d"/>
<rect x="209.70" y="169.34" width="11.71" height="2.41" fill="#34608d"/>
<rect x="221.42" y="169.34" width="11.71" height="2.41" fill="#404688"/>
<rect x="233.13" y="169.34" width="11.71" height="2.41" fill="#2e6d8e"/>
<rect x="244.85" y="169.34" width="11.71" height="2.41" fill="#34608d"/>
<rect x="256.56" y="169.34" width="11.71" height="2.41" fill="#2e6d8e"/>
<rect x="268.27" y="169.34" width="11.71" height="2.41" fill="#34608d"/>
<rect x="279.99" y="169.34" width="11.71" height="2.41" fill="#404688"/>
<rect x="34.00" y="171.75" width="11.71" height="2.41" fill="#48186a"/>
<rect x="45.71" y="171.75" width="11.71" height="2.41" fill="#48186a"/>
<rect x="57.43" y="171.75" width="11.71" height="2.41" fill="#48186a"/>
<rect x="69.14" y="171.75" width="11.71" height="2.41" fill="#472c7a"/>
<rect x="80.85" y="171.75" width="11.71" height="2.41" fill="#443983"/>
<rect x="92.57" y="171.75" width="11.71" height="2.41" fill="#443983"/>
<rect x="104.28" y="171.75" width="11.71" height="2.41" fill="#404688"/>
<rect x="116.00" y="171.75" width="11.71" height="2.41" fill="#443983"/>
<rect x="127.71" y="171.75" width="11.71" height="2.41" fill="#472c7a"/>
<rect x="139.42" y="171.75" width="11.71" height="2.41" fill="#3a538b"/>
<rect x="151.14" y="171.75" width="11.71" height="2.41" fill="#3a538b"/>
<rect x="162.85" y="171.75" width="11.71" height="2.41" fill="#3a538b"/>
<rect x="174.56" y="171.75" width="11.71" height="2.41" fill="#2e6d8e"/>
<rect x="186.28" y="171.75" width="11.71" height="2.41" fill="#2e6d8e"/>
<rect x="197.99" y="171.75" width="11.71" height="2.41" fill="#2e6d8e"/>
<rect x="209.70" y="171.75" width="11.71" height="2.41" fill="#2e6d8e"/>
<rect x="221.42" y="171.75" width="11.71" height="2.41" fill="#3a538b"/>
<rect x="233.13" y="171.75" width="11.71" height="2.41" fill="#404688"/>
<rect x="244.85" y="171.75" width="11.71" height="2.41" fill="#34608d"/>
<rect x="256.56" y="171.75" width="11.71" height="2.41" fill="#404688"/>
<rect x="268.27" y="171.75" width="11.71" height="2.41" fill="#3a538b"/>
<rect x="279.99" y="171.75" width="11.71" height="2.41" fill="#404688"/>
<rect x="34.00" y="174.16" width="11.71" height="2.41" fill="#443983"/>
<rect x="45.71" y="174.16" width="11.71" height="2.41" fill="#424086"/>
<rect x="57.43" y="174.16" width="11.71" height="2.41" fill="#3a538b"/>
<rect x="69.14" y="174.16" width="11.71" height="2.41" fill="#424086"/>
<rect x="80.85" y="174.16" width="11.71" height="2.41" fill="#404688"/>
<rect x="92.57" y="174.16" width="11.71" height="2.41" fill="#32658e"/>
<rect x="104.28" y="174.16" width="11.71" height="2.41" fill="#2e6d8e"/>
<rect x="116.00" y="174.16" width="11.71" height="2.41" fill="#404688"/>
<rect x="127.71" y="174.16" width="11.71" height="2.41" fill="#24868e"/>
<rect x="139.42" y="174.16" width="11.71" height="2.41" fill="#3a538b"/>
<rect x="151.14" y="174.16" width="11.71" height="2.41" fill="#3a538b"/>
<rect x="162.85" y="174.16" width="11.71" height="2.41" fill="#2e6d8e"/>
<rect x="174.56" y="174.16" width="11.71" height="2.41" fill="#34608d"/>
<rect x="186.28" y="174.16" width="11.71" height="2.41" fill="#1fa187"/>
<rect x="197.99" y="174.16" width="11.71" height="2.41" fill="#24868e"/>
<rect x="209.70" y="174.16" width="11.71" height="2.41" fill="#29798e"/>
<rect x="221.42" y="174.16" width="11.71" height="2.41" fill="#2e6d8e"/>
<rect x="233.13" y="174.16" width="11.71" height="2.41" fill="#2e6d8e"/>
<rect x="244.85" y="174.16" width="11.71" height="2.41" fill="#2e6d8e"/>
<rect x="256.56" y="174.16" width="11.71" height="2.41" fill="#29798e"/>
<rect x="268.27" y="174.16" width="11.71" height="2.41" fill="#2e6d8e"/>
<rect x="279.99" y="174.16" width="11.71" height="2.41" fill="#2e6d8e"/>
<rect x="34.00" y="176.57" width="11.71" height="2.41" fill="#472c7a"/>
<rect x="45.71" y="176.57" width="11.71" height="2.41" fill="#481f70"/>
<rect x="57.43" y="176.57" width="11.71" height="2.41" fill="#481f70"/>
<rect x="69.14" y="176.57" width="11.71" height="2.41" fill="#443983"/>
<rect x="80.85" y="176.57" width="11.71" height="2.41" fill="#443983"/>
<rect x="92.57" y="176.57" width="11.71" height="2.41" fill="#443983"/>
<rect x="104.28" y="176.57" width="11.71" height="2.41" fill="#424086"/>
<rect x="116.00" y="176.57" width="11.71" height="2.41" fill="#404688"/>
<rect x="127.71" y="176.57" width="11.71" height="2.41" fill="#404688"/>
<rect x="139.42" y="176.57" width="11.71" height="2.41" fill="#3a538b"/>
<rect x="151.14" y="176.57" width="11.71" height="2.41" fill="#404688"/>
<rect x="162.85" y="176.57" width="11.71" height="2.41" fill="#34608d"/>
<rect x="174.56" y="176.57" width="11.71" height="2.41" fill="#2e6d8e"/>
<rect x="186.28" y="176.57" width="11.71" height="2.41" fill="#34608d"/>
<rect x="197.99" y="176.57" width="11.71" height="2.41" fill="#24868e"/>
<rect x="209.70" y="176.57" width="11.71" height="2.41" fill="#2e6d8e"/>
<rect x="221.42" y="176.57" width="11.71" height="2.41" fill="#404688"/>
<rect x="233.13" y="176.57" width="11.71" height="2.41" fill="#404688"/>
<rect x="244.85" y="176.57" width="11.71" height="2.41" fill="#404688"/>
<rect x="256.56" y="176.57" width="11.71" height="2.41" fill="#2e6d8e"/>
<rect x="268.27" y="176.57" width="11.71" height="2.41" fill="#34608d"/>
<rect x="279.99" y="176.57" width="11.71" height="2.41" fill="#3a538b"/>
<rect x="34.00" y="178.98" width="11.71" height="2.41" fill="#481f70"/>
<rect x="45.71" y="178.98" width="11.71" height="2.41" fill="#472c7a"/>
<rect x="57.43" y="178.98" width="11.71" height="2.41" fill="#48186a"/>
<rect x="69.14" y="178.98" width="11.71" height="2.41" fill="#443983"/>
<rect x="80.85" y="178.98" width="11.71" height="2.41" fill="#471365"/>
<rect x="92.57" y="178.98" width="11.71" height="2.41" fill="#470e61"/>
<rect x="104.28" y="178.98" width="11.71" height="2.41" fill="#471365"/>
<rect x="116.00" y="178.98" width="11.71" height="2.41" fill="#443983"/>
<rect x="127.71" y="178.98" width="11.71" height="2.41" fill="#443983"/>
<rect x="139.42" y="178.98" width="11.71" height="2.41" fill="#443983"/>
<rect x="151.14" y="178.98" width="11.71" height="2.41" fill="#443983"/>
<rect x="162.85" y="178.98" width="11.71" height="2.41" fill="#443983"/>
<rect x="174.56" y="178.98" width="11.71" height="2.41" fill="#443983"/>
<rect x="186.28" y="178.98" width="11.71" height="2.41" fill="#443983"/>
<rect x="197.99" y="178.98" width="11.71" height="2.41" fill="#443983"/>
<rect x="209.70" y="178.98" width="11.71" height="2.41" fill="#443983"/>
<rect x="221.42" y="178.98" width="11.71" height="2.41" fill="#443983"/>
<rect x="233.13" y="178.98" width="11.71" height="2.41" fill="#443983"/>
<rect x="244.85" y="178.98" width="11.71" height="2.41" fill="#443983"/>
<rect x="256.56" y="178.98" width="11.71" height="2.41" fill="#443983"/>
<rect x="268.27" y="178.98" width="11.71" height="2.41" fill="#443983"/>
<rect x="279.99" y="178.98" width="11.71" height="2.41" fill="#443983"/>
<rect x="34.00" y="181.39" width="11.71" height="2.41" fill="#440256"/>
<rect x="45.71" y="181.39" width="11.71" height="2.41" fill="#440256"/>
<rect x="57.43" y="181.39" width="11.71" height="2.41" fill="#440256"/>
<rect x="69.14" y="181.39" width="11.71" height="2.41" fill="#440256"/>
<rect x="80.85" y="181.39" width="11.71" height="2.41" fill="#440256"/>
<rect x="92.57" y="181.39" width="11.71" height="2.41" fill="#440256"/>
<rect x="104.28" y="181.39" width="11.71" height="2.41" fill="#440256"/>
<rect x="116.00" y="181.39" width="11.71" height="2.41" fill="#440256"/>
<rect x="127.71" y="181.39" width="11.71" height="2.41" fill="#440256"/>
<rect x="139.42" y="181.39" width="11.71" height="2.41" fill="#450457"/>
<rect x="151.14" y="181.39" width="11.71" height="2.41" fill="#450457"/>
<rect x="162.85" y="181.39" width="11.71" height="2.41" fill="#440256"/>
<rect x="174.56" y="181.39" width="11.71" height="2.41" fill="#450457"/>
<rect x="186.28" y="181.39" width="11.71" height="2.41" fill="#450457"/>
<rect x="197.99" y="181.39" width="11.71" height="2.41" fill="#450457"/>
<rect x="209.70" y="181.39" width="11.71" height="2.41" fill="#450457"/>
<rect x="221.42" y="181.39" width="11.71" height="2.41" fill="#440256"/>
<rect x="233.13" y="181.39" width="11.71" height="2.41" fill="#46085c"/>
<rect x="244.85" y="181.39" width="11.71" height="2.41" fill="#440256"/>
<rect x="256.56" y="181.39" width="11.71" height="2.41" fill="#440256"/>
<rect x="268.27" y="181.39" width="11.71" height="2.41" fill="#440256"/>
<rect x="279.99" y="181.39" width="11.71" height="2.41" fill="#440256"/>
</g></g>
<line x1="34.00" y1="61.60" x2="37.80" y2="61.60" stroke="#e0d0e8" stroke-width="0.9"/>
<line x1="287.90" y1="61.60" x2="291.70" y2="61.60" stroke="#e0d0e8" stroke-width="0.9"/>
<line x1="34.00" y1="125.50" x2="37.80" y2="125.50" stroke="#e0d0e8" stroke-width="0.9"/>
<line x1="287.90" y1="125.50" x2="291.70" y2="125.50" stroke="#e0d0e8" stroke-width="0.9"/>
<line x1="119.60" y1="183.80" x2="119.60" y2="180.00" stroke="#e0d0e8" stroke-width="0.9"/>
<line x1="119.60" y1="3.00" x2="119.60" y2="6.80" stroke="#e0d0e8" stroke-width="0.9"/>
<line x1="206.00" y1="183.80" x2="206.00" y2="180.00" stroke="#e0d0e8" stroke-width="0.9"/>
<line x1="206.00" y1="3.00" x2="206.00" y2="6.80" stroke="#e0d0e8" stroke-width="0.9"/>
<text x="41.80" y="18.90" font-size="8.8" fill="#ffffff" stroke="#ffffff" stroke-width="0.25" font-weight="bold">a</text>
<text transform="translate(31.40,7.10) scale(1,1.05)" font-size="9" fill="#262626" stroke="#262626" stroke-width="0.25" text-anchor="end">3</text>
<text transform="translate(31.40,65.80) scale(1,1.05)" font-size="9" fill="#262626" stroke="#262626" stroke-width="0.25" text-anchor="end">2</text>
<text transform="translate(31.40,129.90) scale(1,1.05)" font-size="9" fill="#262626" stroke="#262626" stroke-width="0.25" text-anchor="end">1</text>
<text transform="translate(31.40,189.40) scale(1,1.05)" font-size="9" fill="#262626" stroke="#262626" stroke-width="0.25" text-anchor="end">0</text>
<text transform="translate(31.60,199.20) scale(1,1.05)" font-size="9" fill="#262626" stroke="#262626" stroke-width="0.25" text-anchor="middle">10</text>
<text transform="translate(37.40,194.80) scale(1,1.05)" font-size="6.4799999999999995" fill="#262626" stroke="#262626" stroke-width="0.25">0</text>
<text transform="translate(117.20,199.20) scale(1,1.05)" font-size="9" fill="#262626" stroke="#262626" stroke-width="0.25" text-anchor="middle">10</text>
<text transform="translate(123.00,194.80) scale(1,1.05)" font-size="6.4799999999999995" fill="#262626" stroke="#262626" stroke-width="0.25">1</text>
<text transform="translate(203.60,199.20) scale(1,1.05)" font-size="9" fill="#262626" stroke="#262626" stroke-width="0.25" text-anchor="middle">10</text>
<text transform="translate(209.40,194.80) scale(1,1.05)" font-size="6.4799999999999995" fill="#262626" stroke="#262626" stroke-width="0.25">2</text>
<text transform="translate(289.30,199.20) scale(1,1.05)" font-size="9" fill="#262626" stroke="#262626" stroke-width="0.25" text-anchor="middle">10</text>
<text transform="translate(295.10,194.80) scale(1,1.05)" font-size="6.4799999999999995" fill="#262626" stroke="#262626" stroke-width="0.25">3</text>
<text x="164.6" y="213.6" font-size="10.4" fill="#262626" stroke="#262626" stroke-width="0.25" text-anchor="middle"><tspan font-style="italic">t</tspan> (ps)</text>
<text transform="translate(23.4,91.6) rotate(-90)" font-size="10.4" fill="#262626" stroke="#262626" stroke-width="0.25" text-anchor="middle"><tspan font-style="italic">v</tspan>(Li<tspan dy="-4.6" font-size="7.6">+</tspan><tspan dy="4.6">Bz) (km/s)</tspan></text>
<defs><linearGradient id="vg" x1="0" y1="1" x2="0" y2="0"><stop offset="0.0000" stop-color="#440154"/><stop offset="0.0312" stop-color="#470d60"/><stop offset="0.0625" stop-color="#48186a"/><stop offset="0.0938" stop-color="#482374"/><stop offset="0.1250" stop-color="#472d7b"/><stop offset="0.1562" stop-color="#453781"/><stop offset="0.1875" stop-color="#424086"/><stop offset="0.2188" stop-color="#3e4989"/><stop offset="0.2500" stop-color="#3b528b"/><stop offset="0.2812" stop-color="#375b8d"/><stop offset="0.3125" stop-color="#33638d"/><stop offset="0.3438" stop-color="#2f6b8e"/><stop offset="0.3750" stop-color="#2c728e"/><stop offset="0.4062" stop-color="#297a8e"/><stop offset="0.4375" stop-color="#26828e"/><stop offset="0.4688" stop-color="#23898e"/><stop offset="0.5000" stop-color="#21918c"/><stop offset="0.5312" stop-color="#1f988b"/><stop offset="0.5625" stop-color="#1fa088"/><stop offset="0.5938" stop-color="#22a785"/><stop offset="0.6250" stop-color="#28ae80"/><stop offset="0.6562" stop-color="#32b67a"/><stop offset="0.6875" stop-color="#3fbc73"/><stop offset="0.7188" stop-color="#4ec36b"/><stop offset="0.7500" stop-color="#5ec962"/><stop offset="0.7812" stop-color="#70cf57"/><stop offset="0.8125" stop-color="#84d44b"/><stop offset="0.8438" stop-color="#98d83e"/><stop offset="0.8750" stop-color="#addc30"/><stop offset="0.9062" stop-color="#c2df23"/><stop offset="0.9375" stop-color="#d8e219"/><stop offset="0.9688" stop-color="#ece51b"/><stop offset="1.0000" stop-color="#fde725"/></linearGradient><clipPath id="clipe"><rect x="590" y="320" width="88.4" height="106"/></clipPath></defs>
<rect x="311.3" y="2.2" width="16.80" height="182.80" fill="url(#vg)" stroke="#5a5a5a" stroke-width="0.8"/>
<text transform="translate(332.60,188.80) scale(1,1.05)" font-size="9" fill="#262626" stroke="#262626" stroke-width="0.25">0</text>
<line x1="326.30" y1="148.44" x2="328.10" y2="148.44" stroke="#333" stroke-width="0.8"/>
<text transform="translate(332.60,151.70) scale(1,1.05)" font-size="9" fill="#262626" stroke="#262626" stroke-width="0.25">0.2</text>
<line x1="326.30" y1="111.88" x2="328.10" y2="111.88" stroke="#333" stroke-width="0.8"/>
<text transform="translate(332.60,116.00) scale(1,1.05)" font-size="9" fill="#262626" stroke="#262626" stroke-width="0.25">0.4</text>
<line x1="326.30" y1="75.32" x2="328.10" y2="75.32" stroke="#333" stroke-width="0.8"/>
<text transform="translate(332.60,79.60) scale(1,1.05)" font-size="9" fill="#262626" stroke="#262626" stroke-width="0.25">0.6</text>
<line x1="326.30" y1="38.76" x2="328.10" y2="38.76" stroke="#333" stroke-width="0.8"/>
<text transform="translate(332.60,42.70) scale(1,1.05)" font-size="9" fill="#262626" stroke="#262626" stroke-width="0.25">0.8</text>
<text transform="translate(332.60,5.80) scale(1,1.05)" font-size="9" fill="#262626" stroke="#262626" stroke-width="0.25">1</text>
<text transform="translate(362.3,94.5) rotate(-90)" font-size="9.9" fill="#262626" stroke="#262626" stroke-width="0.25" text-anchor="middle">Co(Li<tspan dy="-4.3" font-size="7.4">+</tspan><tspan dy="4.3">Bz, Bz</tspan><tspan dy="-4.3" font-size="7.4">+</tspan><tspan dy="4.3">) (arb. units)</tspan></text>
<line x1="528.30" y1="108.50" x2="528.30" y2="2.60" stroke="#6e6e6e" stroke-width="0.8" stroke-dasharray="10.2 6"/>
<path d="M420.40,105.77 L421.70,105.75 L422.99,105.72 L424.29,105.69 L425.59,105.66 L426.88,105.63 L428.18,105.59 L429.48,105.55 L430.77,105.51 L432.07,105.47 L433.36,105.42 L434.66,105.36 L435.96,105.31 L437.25,105.25 L438.55,105.18 L439.85,105.11 L441.14,105.03 L442.44,104.95 L443.74,104.86 L445.03,104.76 L446.33,104.66 L447.63,104.54 L448.92,104.42 L450.22,104.29 L451.52,104.15 L452.81,104.00 L454.11,103.84 L455.41,103.66 L456.70,103.47 L458.00,103.27 L459.29,103.05 L460.59,102.81 L461.89,102.56 L463.18,102.29 L464.48,101.99 L465.78,101.68 L467.07,101.34 L468.37,100.98 L469.67,100.60 L470.96,100.18 L472.26,99.74 L473.56,99.26 L474.85,98.75 L476.15,98.21 L477.45,97.63 L478.74,97.02 L480.04,96.36 L481.33,95.66 L482.63,94.92 L483.93,94.13 L485.22,93.29 L486.52,92.40 L487.82,91.46 L489.11,90.47 L490.41,89.43 L491.71,88.33 L493.00,87.17 L494.30,85.95 L495.60,84.68 L496.89,83.35 L498.19,81.97 L499.49,80.52 L500.78,79.02 L502.08,77.47 L503.37,75.87 L504.67,74.21 L505.97,72.51 L507.26,70.76 L508.56,68.98 L509.86,67.15 L511.15,65.30 L512.45,63.42 L513.75,61.51 L515.04,59.59 L516.34,57.66 L517.64,55.73 L518.93,53.79 L520.23,51.86 L521.53,49.95 L522.82,48.05 L524.12,46.17 L525.42,44.33 L526.71,42.51 L528.01,40.73 L529.30,39.00 L530.60,37.31 L531.90,35.66 L533.19,34.07 L534.49,32.53 L535.79,31.04 L537.08,29.61 L538.38,28.24 L539.68,26.93 L540.97,25.67 L542.27,24.47 L543.57,23.32 L544.86,22.24 L546.16,21.20 L547.46,20.23 L548.75,19.30 L550.05,18.43 L551.34,17.60 L552.64,16.82 L553.94,16.09 L555.23,15.40 L556.53,14.75 L557.83,14.14 L559.12,13.57 L560.42,13.04 L561.72,12.54 L563.01,12.07 L564.31,11.64 L565.61,11.23 L566.90,10.85 L568.20,10.49 L569.50,10.16 L570.79,9.85 L572.09,9.57 L573.38,9.30 L574.68,9.05 L575.98,8.82 L577.27,8.60 L578.57,8.40 L579.87,8.22 L581.16,8.04 L582.46,7.88 L583.76,7.73 L585.05,7.60 L586.35,7.47 L587.65,7.35 L588.94,7.24 L590.24,7.13 L591.54,7.04 L592.83,6.95 L594.13,6.87 L595.43,6.79 L596.72,6.72 L598.02,6.66 L599.31,6.60 L600.61,6.54 L601.91,6.49 L603.20,6.44 L604.50,6.40 L605.80,6.36 L607.09,6.32 L608.39,6.28 L609.69,6.25 L610.98,6.22 L612.28,6.19 L613.58,6.17 L614.87,6.14 L616.17,6.12 L617.47,6.10 L618.76,6.08 L620.06,6.06 L621.35,6.04 L622.65,6.03 L623.95,6.02 L625.24,6.00 L626.54,5.99 L627.84,5.98 L629.13,5.97 L630.43,5.96 L631.73,5.95 L633.02,5.94 L634.32,5.93 L635.62,5.93 L636.91,5.92 L638.21,5.92 L639.51,5.91 L640.80,5.90 L642.10,5.90 L643.39,5.90 L644.69,5.89 L645.99,5.89 L647.28,5.88 L648.58,5.88 L649.88,5.88 L651.17,5.87 L652.47,5.87 L653.77,5.87 L655.06,5.87 L656.36,5.87 L657.66,5.86 L658.95,5.86 L660.25,5.86 L661.55,5.86 L662.84,5.86 L664.14,5.86 L665.44,5.85 L666.73,5.85 L668.03,5.85 L669.32,5.85 L670.62,5.85 L671.92,5.85 L673.21,5.85 L674.51,5.85 L675.81,5.85 L677.10,5.85 L678.40,5.85" fill="none" stroke="#0000ff" stroke-width="1.0"/>
<circle cx="420.40" cy="108.50" r="1.35" fill="#000"/>
<circle cx="432.93" cy="106.20" r="1.35" fill="#000"/>
<circle cx="444.25" cy="104.70" r="1.35" fill="#000"/>
<circle cx="455.88" cy="103.50" r="1.35" fill="#000"/>
<circle cx="467.31" cy="101.00" r="1.35" fill="#000"/>
<circle cx="479.04" cy="93.90" r="1.35" fill="#000"/>
<circle cx="490.76" cy="85.80" r="1.35" fill="#000"/>
<circle cx="502.49" cy="79.70" r="1.35" fill="#000"/>
<circle cx="514.22" cy="62.00" r="1.35" fill="#000"/>
<circle cx="525.95" cy="44.90" r="1.35" fill="#000"/>
<circle cx="537.67" cy="27.70" r="1.35" fill="#000"/>
<circle cx="549.40" cy="17.70" r="1.35" fill="#000"/>
<circle cx="561.13" cy="14.20" r="1.35" fill="#000"/>
<circle cx="572.85" cy="4.70" r="1.35" fill="#000"/>
<circle cx="584.58" cy="7.40" r="1.35" fill="#000"/>
<circle cx="596.31" cy="4.40" r="1.35" fill="#000"/>
<circle cx="608.04" cy="4.00" r="1.35" fill="#000"/>
<circle cx="619.76" cy="9.30" r="1.35" fill="#000"/>
<circle cx="631.49" cy="13.10" r="1.35" fill="#000"/>
<circle cx="643.22" cy="3.20" r="1.35" fill="#000"/>
<circle cx="654.95" cy="6.10" r="1.35" fill="#000"/>
<circle cx="666.67" cy="9.50" r="1.35" fill="#000"/>
<circle cx="678.40" cy="3.00" r="1.35" fill="#000"/>
<rect x="420.4" y="2.6" width="258.0" height="105.90" fill="none" stroke="#262626" stroke-width="0.8"/>
<line x1="506.40" y1="108.50" x2="506.40" y2="105.50" stroke="#262626" stroke-width="0.8"/>
<line x1="506.40" y1="2.60" x2="506.40" y2="5.60" stroke="#262626" stroke-width="0.8"/>
<line x1="592.40" y1="108.50" x2="592.40" y2="105.50" stroke="#262626" stroke-width="0.8"/>
<line x1="592.40" y1="2.60" x2="592.40" y2="5.60" stroke="#262626" stroke-width="0.8"/>
<line x1="420.40" y1="108.50" x2="423.20" y2="108.50" stroke="#262626" stroke-width="0.8"/>
<line x1="675.60" y1="108.50" x2="678.40" y2="108.50" stroke="#262626" stroke-width="0.8"/>
<text transform="translate(417.60,112.90) scale(1,1.05)" font-size="9" fill="#262626" stroke="#262626" stroke-width="0.25" text-anchor="end">0</text>
<line x1="420.40" y1="63.75" x2="423.20" y2="63.75" stroke="#262626" stroke-width="0.8"/>
<line x1="675.60" y1="63.75" x2="678.40" y2="63.75" stroke="#262626" stroke-width="0.8"/>
<text transform="translate(417.60,68.15) scale(1,1.05)" font-size="9" fill="#262626" stroke="#262626" stroke-width="0.25" text-anchor="end">0.5</text>
<line x1="420.40" y1="19.00" x2="423.20" y2="19.00" stroke="#262626" stroke-width="0.8"/>
<line x1="675.60" y1="19.00" x2="678.40" y2="19.00" stroke="#262626" stroke-width="0.8"/>
<text transform="translate(417.60,23.40) scale(1,1.05)" font-size="9" fill="#262626" stroke="#262626" stroke-width="0.25" text-anchor="end">1</text>
<text x="428.40" y="17.20" font-size="8.8" fill="#000" stroke="#000" stroke-width="0.25" font-weight="bold">b</text>
<path d="M431.50,31.10 L429.50,35.80 L431.50,40.50" fill="none" stroke="#555" stroke-width="0.65"/>
<text x="432.60" y="38.80" font-size="9" fill="#262626" stroke="#262626" stroke-width="0.25" font-style="italic">R</text>
<path d="M440.30,31.10 L442.30,35.80 L440.30,40.50" fill="none" stroke="#555" stroke-width="0.65"/>
<text x="447.10" y="38.80" font-size="9.3" fill="#262626" stroke="#262626" stroke-width="0.25" word-spacing="0.05">= 35 Å</text>
<path d="M536.50,50.80 L534.50,55.30 L536.50,59.80" fill="none" stroke="#555" stroke-width="0.65"/>
<text x="538.00" y="57.60" font-size="9" fill="#262626" stroke="#262626" stroke-width="0.25" font-style="italic">t</text>
<text x="541.20" y="62.00" font-size="7.4" fill="#262626" stroke="#262626" stroke-width="0.25">total</text>
<path d="M556.80,50.80 L558.80,55.30 L556.80,59.80" fill="none" stroke="#555" stroke-width="0.65"/>
<text x="563.60" y="57.60" font-size="9" fill="#262626" stroke="#262626" stroke-width="0.25" word-spacing="0.4">= 18 ± 1 ps</text>
<line x1="545.50" y1="214.30" x2="545.50" y2="108.50" stroke="#6e6e6e" stroke-width="0.8" stroke-dasharray="10.2 6"/>
<path d="M420.40,214.13 L421.70,214.11 L422.99,214.09 L424.29,214.07 L425.59,214.05 L426.88,214.03 L428.18,214.01 L429.48,213.98 L430.77,213.95 L432.07,213.93 L433.36,213.89 L434.66,213.86 L435.96,213.82 L437.25,213.79 L438.55,213.74 L439.85,213.70 L441.14,213.65 L442.44,213.60 L443.74,213.55 L445.03,213.49 L446.33,213.43 L447.63,213.36 L448.92,213.29 L450.22,213.21 L451.52,213.13 L452.81,213.04 L454.11,212.95 L455.41,212.85 L456.70,212.74 L458.00,212.62 L459.29,212.50 L460.59,212.37 L461.89,212.23 L463.18,212.07 L464.48,211.91 L465.78,211.74 L467.07,211.55 L468.37,211.36 L469.67,211.15 L470.96,210.92 L472.26,210.68 L473.56,210.42 L474.85,210.15 L476.15,209.86 L477.45,209.55 L478.74,209.22 L480.04,208.86 L481.33,208.49 L482.63,208.09 L483.93,207.66 L485.22,207.21 L486.52,206.73 L487.82,206.22 L489.11,205.68 L490.41,205.11 L491.71,204.50 L493.00,203.86 L494.30,203.18 L495.60,202.47 L496.89,201.71 L498.19,200.92 L499.49,200.08 L500.78,199.20 L502.08,198.27 L503.37,197.30 L504.67,196.29 L505.97,195.22 L507.26,194.11 L508.56,192.95 L509.86,191.75 L511.15,190.49 L512.45,189.19 L513.75,187.85 L515.04,186.45 L516.34,185.01 L517.64,183.53 L518.93,182.01 L520.23,180.45 L521.53,178.86 L522.82,177.23 L524.12,175.57 L525.42,173.88 L526.71,172.17 L528.01,170.43 L529.30,168.69 L530.60,166.93 L531.90,165.16 L533.19,163.39 L534.49,161.62 L535.79,159.86 L537.08,158.10 L538.38,156.36 L539.68,154.64 L540.97,152.94 L542.27,151.27 L543.57,149.62 L544.86,148.01 L546.16,146.43 L547.46,144.89 L548.75,143.39 L550.05,141.93 L551.34,140.51 L552.64,139.14 L553.94,137.82 L555.23,136.54 L556.53,135.31 L557.83,134.13 L559.12,132.99 L560.42,131.91 L561.72,130.87 L563.01,129.87 L564.31,128.92 L565.61,128.02 L566.90,127.16 L568.20,126.35 L569.50,125.57 L570.79,124.83 L572.09,124.14 L573.38,123.48 L574.68,122.86 L575.98,122.27 L577.27,121.71 L578.57,121.19 L579.87,120.69 L581.16,120.23 L582.46,119.79 L583.76,119.38 L585.05,118.99 L586.35,118.62 L587.65,118.28 L588.94,117.96 L590.24,117.66 L591.54,117.38 L592.83,117.11 L594.13,116.86 L595.43,116.63 L596.72,116.41 L598.02,116.21 L599.31,116.02 L600.61,115.84 L601.91,115.67 L603.20,115.52 L604.50,115.37 L605.80,115.23 L607.09,115.10 L608.39,114.98 L609.69,114.87 L610.98,114.77 L612.28,114.67 L613.58,114.58 L614.87,114.49 L616.17,114.42 L617.47,114.34 L618.76,114.27 L620.06,114.21 L621.35,114.15 L622.65,114.09 L623.95,114.04 L625.24,113.99 L626.54,113.94 L627.84,113.90 L629.13,113.86 L630.43,113.82 L631.73,113.79 L633.02,113.76 L634.32,113.73 L635.62,113.70 L636.91,113.67 L638.21,113.65 L639.51,113.62 L640.80,113.60 L642.10,113.58 L643.39,113.56 L644.69,113.55 L645.99,113.53 L647.28,113.52 L648.58,113.50 L649.88,113.49 L651.17,113.48 L652.47,113.47 L653.77,113.45 L655.06,113.44 L656.36,113.44 L657.66,113.43 L658.95,113.42 L660.25,113.41 L661.55,113.40 L662.84,113.40 L664.14,113.39 L665.44,113.39 L666.73,113.38 L668.03,113.38 L669.32,113.37 L670.62,113.37 L671.92,113.36 L673.21,113.36 L674.51,113.36 L675.81,113.35 L677.10,113.35 L678.40,113.35" fill="none" stroke="#0000ff" stroke-width="1.0"/>
<circle cx="420.40" cy="214.30" r="1.35" fill="#000"/>
<circle cx="432.93" cy="213.80" r="1.35" fill="#000"/>
<circle cx="444.25" cy="213.50" r="1.35" fill="#000"/>
<circle cx="455.88" cy="213.00" r="1.35" fill="#000"/>
<circle cx="467.31" cy="211.70" r="1.35" fill="#000"/>
<circle cx="479.04" cy="208.50" r="1.35" fill="#000"/>
<circle cx="490.76" cy="205.10" r="1.35" fill="#000"/>
<circle cx="502.49" cy="197.70" r="1.35" fill="#000"/>
<circle cx="514.22" cy="188.00" r="1.35" fill="#000"/>
<circle cx="525.95" cy="172.80" r="1.35" fill="#000"/>
<circle cx="537.67" cy="158.30" r="1.35" fill="#000"/>
<circle cx="549.40" cy="141.30" r="1.35" fill="#000"/>
<circle cx="561.13" cy="131.50" r="1.35" fill="#000"/>
<circle cx="572.85" cy="122.30" r="1.35" fill="#000"/>
<circle cx="584.58" cy="119.70" r="1.35" fill="#000"/>
<circle cx="596.31" cy="123.10" r="1.35" fill="#000"/>
<circle cx="608.04" cy="113.10" r="1.35" fill="#000"/>
<circle cx="619.76" cy="112.60" r="1.35" fill="#000"/>
<circle cx="631.49" cy="110.00" r="1.35" fill="#000"/>
<circle cx="643.22" cy="108.70" r="1.35" fill="#000"/>
<circle cx="654.95" cy="116.50" r="1.35" fill="#000"/>
<circle cx="666.67" cy="112.10" r="1.35" fill="#000"/>
<circle cx="678.40" cy="118.40" r="1.35" fill="#000"/>
<rect x="420.4" y="108.5" width="258.0" height="105.80" fill="none" stroke="#262626" stroke-width="0.8"/>
<line x1="506.40" y1="214.30" x2="506.40" y2="211.30" stroke="#262626" stroke-width="0.8"/>
<line x1="506.40" y1="108.50" x2="506.40" y2="111.50" stroke="#262626" stroke-width="0.8"/>
<line x1="592.40" y1="214.30" x2="592.40" y2="211.30" stroke="#262626" stroke-width="0.8"/>
<line x1="592.40" y1="108.50" x2="592.40" y2="111.50" stroke="#262626" stroke-width="0.8"/>
<line x1="420.40" y1="214.30" x2="423.20" y2="214.30" stroke="#262626" stroke-width="0.8"/>
<line x1="675.60" y1="214.30" x2="678.40" y2="214.30" stroke="#262626" stroke-width="0.8"/>
<text transform="translate(417.60,218.70) scale(1,1.05)" font-size="9" fill="#262626" stroke="#262626" stroke-width="0.25" text-anchor="end">0</text>
<line x1="420.40" y1="188.73" x2="423.20" y2="188.73" stroke="#262626" stroke-width="0.8"/>
<line x1="675.60" y1="188.73" x2="678.40" y2="188.73" stroke="#262626" stroke-width="0.8"/>
<text transform="translate(417.60,193.13) scale(1,1.05)" font-size="9" fill="#262626" stroke="#262626" stroke-width="0.25" text-anchor="end">1</text>
<line x1="420.40" y1="163.16" x2="423.20" y2="163.16" stroke="#262626" stroke-width="0.8"/>
<line x1="675.60" y1="163.16" x2="678.40" y2="163.16" stroke="#262626" stroke-width="0.8"/>
<text transform="translate(417.60,167.56) scale(1,1.05)" font-size="9" fill="#262626" stroke="#262626" stroke-width="0.25" text-anchor="end">2</text>
<line x1="420.40" y1="137.59" x2="423.20" y2="137.59" stroke="#262626" stroke-width="0.8"/>
<line x1="675.60" y1="137.59" x2="678.40" y2="137.59" stroke="#262626" stroke-width="0.8"/>
<text transform="translate(417.60,141.99) scale(1,1.05)" font-size="9" fill="#262626" stroke="#262626" stroke-width="0.25" text-anchor="end">3</text>
<text x="428.40" y="123.10" font-size="8.8" fill="#000" stroke="#000" stroke-width="0.25" font-weight="bold">c</text>
<path d="M431.50,137.00 L429.50,141.70 L431.50,146.40" fill="none" stroke="#555" stroke-width="0.65"/>
<text x="432.60" y="144.70" font-size="9" fill="#262626" stroke="#262626" stroke-width="0.25" font-style="italic">R</text>
<path d="M440.30,137.00 L442.30,141.70 L440.30,146.40" fill="none" stroke="#555" stroke-width="0.65"/>
<text x="447.10" y="144.70" font-size="9.3" fill="#262626" stroke="#262626" stroke-width="0.25" word-spacing="0.05">= 40 Å</text>
<path d="M554.00,156.70 L552.00,161.20 L554.00,165.70" fill="none" stroke="#555" stroke-width="0.65"/>
<text x="555.50" y="163.50" font-size="9" fill="#262626" stroke="#262626" stroke-width="0.25" font-style="italic">t</text>
<text x="558.70" y="167.90" font-size="7.4" fill="#262626" stroke="#262626" stroke-width="0.25">total</text>
<path d="M574.30,156.70 L576.30,161.20 L574.30,165.70" fill="none" stroke="#555" stroke-width="0.65"/>
<text x="581.10" y="163.50" font-size="9" fill="#262626" stroke="#262626" stroke-width="0.25" word-spacing="0.4">= 29 ± 2 ps</text>
<line x1="563.50" y1="320.10" x2="563.50" y2="214.30" stroke="#6e6e6e" stroke-width="0.8" stroke-dasharray="10.2 6"/>
<path d="M420.40,320.70 L421.70,320.69 L422.99,320.68 L424.29,320.66 L425.59,320.65 L426.88,320.64 L428.18,320.62 L429.48,320.60 L430.77,320.59 L432.07,320.57 L433.36,320.55 L434.66,320.52 L435.96,320.50 L437.25,320.48 L438.55,320.45 L439.85,320.42 L441.14,320.39 L442.44,320.36 L443.74,320.33 L445.03,320.29 L446.33,320.26 L447.63,320.22 L448.92,320.17 L450.22,320.13 L451.52,320.08 L452.81,320.03 L454.11,319.97 L455.41,319.91 L456.70,319.85 L458.00,319.79 L459.29,319.72 L460.59,319.64 L461.89,319.56 L463.18,319.48 L464.48,319.39 L465.78,319.30 L467.07,319.19 L468.37,319.09 L469.67,318.97 L470.96,318.85 L472.26,318.73 L473.56,318.59 L474.85,318.45 L476.15,318.29 L477.45,318.13 L478.74,317.96 L480.04,317.77 L481.33,317.58 L482.63,317.38 L483.93,317.16 L485.22,316.93 L486.52,316.68 L487.82,316.43 L489.11,316.15 L490.41,315.86 L491.71,315.56 L493.00,315.24 L494.30,314.90 L495.60,314.54 L496.89,314.16 L498.19,313.76 L499.49,313.34 L500.78,312.89 L502.08,312.43 L503.37,311.94 L504.67,311.42 L505.97,310.88 L507.26,310.31 L508.56,309.71 L509.86,309.09 L511.15,308.44 L512.45,307.75 L513.75,307.04 L515.04,306.29 L516.34,305.52 L517.64,304.71 L518.93,303.87 L520.23,303.00 L521.53,302.09 L522.82,301.15 L524.12,300.18 L525.42,299.18 L526.71,298.15 L528.01,297.08 L529.30,295.99 L530.60,294.86 L531.90,293.71 L533.19,292.53 L534.49,291.33 L535.79,290.10 L537.08,288.85 L538.38,287.58 L539.68,286.30 L540.97,285.00 L542.27,283.68 L543.57,282.35 L544.86,281.02 L546.16,279.68 L547.46,278.33 L548.75,276.99 L550.05,275.65 L551.34,274.31 L552.64,272.98 L553.94,271.66 L555.23,270.35 L556.53,269.06 L557.83,267.78 L559.12,266.53 L560.42,265.29 L561.72,264.08 L563.01,262.89 L564.31,261.73 L565.61,260.60 L566.90,259.49 L568.20,258.41 L569.50,257.37 L570.79,256.36 L572.09,255.37 L573.38,254.43 L574.68,253.51 L575.98,252.62 L577.27,251.77 L578.57,250.95 L579.87,250.16 L581.16,249.41 L582.46,248.68 L583.76,247.99 L585.05,247.32 L586.35,246.69 L587.65,246.08 L588.94,245.50 L590.24,244.95 L591.54,244.43 L592.83,243.93 L594.13,243.45 L595.43,243.00 L596.72,242.57 L598.02,242.16 L599.31,241.78 L600.61,241.41 L601.91,241.06 L603.20,240.74 L604.50,240.42 L605.80,240.13 L607.09,239.85 L608.39,239.59 L609.69,239.34 L610.98,239.10 L612.28,238.88 L613.58,238.67 L614.87,238.47 L616.17,238.29 L617.47,238.11 L618.76,237.95 L620.06,237.79 L621.35,237.64 L622.65,237.50 L623.95,237.37 L625.24,237.25 L626.54,237.13 L627.84,237.02 L629.13,236.92 L630.43,236.82 L631.73,236.73 L633.02,236.65 L634.32,236.57 L635.62,236.49 L636.91,236.42 L638.21,236.35 L639.51,236.29 L640.80,236.23 L642.10,236.17 L643.39,236.12 L644.69,236.07 L645.99,236.02 L647.28,235.98 L648.58,235.94 L649.88,235.90 L651.17,235.86 L652.47,235.83 L653.77,235.80 L655.06,235.77 L656.36,235.74 L657.66,235.71 L658.95,235.69 L660.25,235.66 L661.55,235.64 L662.84,235.62 L664.14,235.60 L665.44,235.58 L666.73,235.57 L668.03,235.55 L669.32,235.53 L670.62,235.52 L671.92,235.51 L673.21,235.49 L674.51,235.48 L675.81,235.47 L677.10,235.46 L678.40,235.45" fill="none" stroke="#0000ff" stroke-width="1.0"/>
<circle cx="420.40" cy="320.10" r="1.35" fill="#000"/>
<circle cx="432.93" cy="319.80" r="1.35" fill="#000"/>
<circle cx="444.25" cy="319.60" r="1.35" fill="#000"/>
<circle cx="455.88" cy="319.80" r="1.35" fill="#000"/>
<circle cx="467.31" cy="319.30" r="1.35" fill="#000"/>
<circle cx="479.04" cy="318.00" r="1.35" fill="#000"/>
<circle cx="490.76" cy="316.40" r="1.35" fill="#000"/>
<circle cx="502.49" cy="314.00" r="1.35" fill="#000"/>
<circle cx="514.22" cy="307.50" r="1.35" fill="#000"/>
<circle cx="525.95" cy="298.80" r="1.35" fill="#000"/>
<circle cx="537.67" cy="288.60" r="1.35" fill="#000"/>
<circle cx="549.40" cy="274.60" r="1.35" fill="#000"/>
<circle cx="561.13" cy="262.00" r="1.35" fill="#000"/>
<circle cx="572.85" cy="256.70" r="1.35" fill="#000"/>
<circle cx="584.58" cy="249.10" r="1.35" fill="#000"/>
<circle cx="596.31" cy="243.60" r="1.35" fill="#000"/>
<circle cx="608.04" cy="242.30" r="1.35" fill="#000"/>
<circle cx="619.76" cy="238.40" r="1.35" fill="#000"/>
<circle cx="631.49" cy="232.30" r="1.35" fill="#000"/>
<circle cx="643.22" cy="235.70" r="1.35" fill="#000"/>
<circle cx="654.95" cy="235.70" r="1.35" fill="#000"/>
<circle cx="666.67" cy="235.70" r="1.35" fill="#000"/>
<circle cx="678.40" cy="235.70" r="1.35" fill="#000"/>
<rect x="420.4" y="214.3" width="258.0" height="105.80" fill="none" stroke="#262626" stroke-width="0.8"/>
<line x1="506.40" y1="320.10" x2="506.40" y2="317.10" stroke="#262626" stroke-width="0.8"/>
<line x1="506.40" y1="214.30" x2="506.40" y2="217.30" stroke="#262626" stroke-width="0.8"/>
<line x1="592.40" y1="320.10" x2="592.40" y2="317.10" stroke="#262626" stroke-width="0.8"/>
<line x1="592.40" y1="214.30" x2="592.40" y2="217.30" stroke="#262626" stroke-width="0.8"/>
<line x1="420.40" y1="320.10" x2="423.20" y2="320.10" stroke="#262626" stroke-width="0.8"/>
<line x1="675.60" y1="320.10" x2="678.40" y2="320.10" stroke="#262626" stroke-width="0.8"/>
<text transform="translate(417.60,324.50) scale(1,1.05)" font-size="9" fill="#262626" stroke="#262626" stroke-width="0.25" text-anchor="end">0</text>
<line x1="420.40" y1="299.00" x2="423.20" y2="299.00" stroke="#262626" stroke-width="0.8"/>
<line x1="675.60" y1="299.00" x2="678.40" y2="299.00" stroke="#262626" stroke-width="0.8"/>
<text transform="translate(417.60,303.40) scale(1,1.05)" font-size="9" fill="#262626" stroke="#262626" stroke-width="0.25" text-anchor="end">2</text>
<line x1="420.40" y1="277.90" x2="423.20" y2="277.90" stroke="#262626" stroke-width="0.8"/>
<line x1="675.60" y1="277.90" x2="678.40" y2="277.90" stroke="#262626" stroke-width="0.8"/>
<text transform="translate(417.60,282.30) scale(1,1.05)" font-size="9" fill="#262626" stroke="#262626" stroke-width="0.25" text-anchor="end">4</text>
<line x1="420.40" y1="256.80" x2="423.20" y2="256.80" stroke="#262626" stroke-width="0.8"/>
<line x1="675.60" y1="256.80" x2="678.40" y2="256.80" stroke="#262626" stroke-width="0.8"/>
<text transform="translate(417.60,261.20) scale(1,1.05)" font-size="9" fill="#262626" stroke="#262626" stroke-width="0.25" text-anchor="end">6</text>
<line x1="420.40" y1="235.70" x2="423.20" y2="235.70" stroke="#262626" stroke-width="0.8"/>
<line x1="675.60" y1="235.70" x2="678.40" y2="235.70" stroke="#262626" stroke-width="0.8"/>
<text transform="translate(417.60,240.10) scale(1,1.05)" font-size="9" fill="#262626" stroke="#262626" stroke-width="0.25" text-anchor="end">8</text>
<text x="428.40" y="228.90" font-size="8.8" fill="#000" stroke="#000" stroke-width="0.25" font-weight="bold">d</text>
<path d="M431.50,242.80 L429.50,247.50 L431.50,252.20" fill="none" stroke="#555" stroke-width="0.65"/>
<text x="432.60" y="250.50" font-size="9" fill="#262626" stroke="#262626" stroke-width="0.25" font-style="italic">R</text>
<path d="M440.30,242.80 L442.30,247.50 L440.30,252.20" fill="none" stroke="#555" stroke-width="0.65"/>
<text x="447.10" y="250.50" font-size="9.3" fill="#262626" stroke="#262626" stroke-width="0.25" word-spacing="0.05">= 44 Å</text>
<path d="M572.30,262.40 L570.30,266.90 L572.30,271.40" fill="none" stroke="#555" stroke-width="0.65"/>
<text x="573.80" y="269.20" font-size="9" fill="#262626" stroke="#262626" stroke-width="0.25" font-style="italic">t</text>
<text x="577.00" y="273.60" font-size="7.4" fill="#262626" stroke="#262626" stroke-width="0.25">total</text>
<path d="M592.60,262.40 L594.60,266.90 L592.60,271.40" fill="none" stroke="#555" stroke-width="0.65"/>
<text x="599.40" y="269.20" font-size="9" fill="#262626" stroke="#262626" stroke-width="0.25" word-spacing="0.4">= 46 ± 2 ps</text>
<line x1="592.50" y1="426.10" x2="592.50" y2="320.10" stroke="#6e6e6e" stroke-width="0.8" stroke-dasharray="10.2 6"/>
<path d="M420.40,426.49 L421.70,426.49 L422.99,426.48 L424.29,426.47 L425.59,426.47 L426.88,426.46 L428.18,426.45 L429.48,426.44 L430.77,426.43 L432.07,426.42 L433.36,426.42 L434.66,426.40 L435.96,426.39 L437.25,426.38 L438.55,426.37 L439.85,426.36 L441.14,426.34 L442.44,426.33 L443.74,426.31 L445.03,426.30 L446.33,426.28 L447.63,426.26 L448.92,426.24 L450.22,426.22 L451.52,426.20 L452.81,426.18 L454.11,426.16 L455.41,426.13 L456.70,426.10 L458.00,426.08 L459.29,426.05 L460.59,426.02 L461.89,425.98 L463.18,425.95 L464.48,425.91 L465.78,425.87 L467.07,425.83 L468.37,425.78 L469.67,425.74 L470.96,425.69 L472.26,425.64 L473.56,425.58 L474.85,425.52 L476.15,425.46 L477.45,425.39 L478.74,425.33 L480.04,425.25 L481.33,425.18 L482.63,425.09 L483.93,425.01 L485.22,424.92 L486.52,424.82 L487.82,424.72 L489.11,424.61 L490.41,424.50 L491.71,424.38 L493.00,424.26 L494.30,424.12 L495.60,423.98 L496.89,423.84 L498.19,423.68 L499.49,423.52 L500.78,423.34 L502.08,423.16 L503.37,422.97 L504.67,422.77 L505.97,422.55 L507.26,422.33 L508.56,422.09 L509.86,421.84 L511.15,421.58 L512.45,421.31 L513.75,421.02 L515.04,420.71 L516.34,420.39 L517.64,420.06 L518.93,419.70 L520.23,419.34 L521.53,418.95 L522.82,418.54 L524.12,418.12 L525.42,417.67 L526.71,417.21 L528.01,416.72 L529.30,416.21 L530.60,415.68 L531.90,415.12 L533.19,414.55 L534.49,413.94 L535.79,413.32 L537.08,412.66 L538.38,411.99 L539.68,411.28 L540.97,410.55 L542.27,409.79 L543.57,409.01 L544.86,408.20 L546.16,407.36 L547.46,406.49 L548.75,405.60 L550.05,404.68 L551.34,403.73 L552.64,402.76 L553.94,401.76 L555.23,400.74 L556.53,399.69 L557.83,398.62 L559.12,397.53 L560.42,396.42 L561.72,395.29 L563.01,394.14 L564.31,392.97 L565.61,391.79 L566.90,390.59 L568.20,389.39 L569.50,388.17 L570.79,386.94 L572.09,385.71 L573.38,384.47 L574.68,383.23 L575.98,381.99 L577.27,380.75 L578.57,379.52 L579.87,378.29 L581.16,377.07 L582.46,375.86 L583.76,374.65 L585.05,373.47 L586.35,372.29 L587.65,371.14 L588.94,370.00 L590.24,368.88 L591.54,367.78 L592.83,366.70 L594.13,365.64 L595.43,364.61 L596.72,363.60 L598.02,362.62 L599.31,361.66 L600.61,360.73 L601.91,359.83 L603.20,358.95 L604.50,358.10 L605.80,357.28 L607.09,356.48 L608.39,355.71 L609.69,354.97 L610.98,354.25 L612.28,353.56 L613.58,352.90 L614.87,352.26 L616.17,351.65 L617.47,351.06 L618.76,350.50 L620.06,349.96 L621.35,349.44 L622.65,348.94 L623.95,348.47 L625.24,348.02 L626.54,347.58 L627.84,347.17 L629.13,346.77 L630.43,346.40 L631.73,346.04 L633.02,345.69 L634.32,345.37 L635.62,345.06 L636.91,344.76 L638.21,344.48 L639.51,344.21 L640.80,343.96 L642.10,343.72 L643.39,343.49 L644.69,343.27 L645.99,343.06 L647.28,342.87 L648.58,342.68 L649.88,342.50 L651.17,342.34 L652.47,342.18 L653.77,342.03 L655.06,341.88 L656.36,341.75 L657.66,341.62 L658.95,341.50 L660.25,341.38 L661.55,341.27 L662.84,341.17 L664.14,341.07 L665.44,340.98 L666.73,340.89 L668.03,340.81 L669.32,340.73 L670.62,340.65 L671.92,340.58 L673.21,340.52 L674.51,340.45 L675.81,340.39 L677.10,340.34 L678.40,340.28" fill="none" stroke="#0000ff" stroke-width="1.0"/>
<circle cx="420.40" cy="426.10" r="1.35" fill="#000"/>
<circle cx="432.93" cy="426.10" r="1.35" fill="#000"/>
<circle cx="444.25" cy="425.90" r="1.35" fill="#000"/>
<circle cx="455.88" cy="425.90" r="1.35" fill="#000"/>
<circle cx="467.31" cy="425.60" r="1.35" fill="#000"/>
<circle cx="479.04" cy="425.10" r="1.35" fill="#000"/>
<circle cx="490.76" cy="424.80" r="1.35" fill="#000"/>
<circle cx="502.49" cy="424.30" r="1.35" fill="#000"/>
<circle cx="514.22" cy="422.50" r="1.35" fill="#000"/>
<circle cx="525.95" cy="418.30" r="1.35" fill="#000"/>
<circle cx="537.67" cy="412.00" r="1.35" fill="#000"/>
<circle cx="549.40" cy="403.50" r="1.35" fill="#000"/>
<circle cx="561.13" cy="392.70" r="1.35" fill="#000"/>
<circle cx="572.85" cy="385.60" r="1.35" fill="#000"/>
<circle cx="584.58" cy="377.80" r="1.35" fill="#000"/>
<circle cx="596.31" cy="365.20" r="1.35" fill="#000"/>
<circle cx="608.04" cy="354.70" r="1.35" fill="#000"/>
<circle cx="619.76" cy="348.60" r="1.35" fill="#000"/>
<circle cx="631.49" cy="344.10" r="1.35" fill="#000"/>
<circle cx="643.22" cy="342.60" r="1.35" fill="#000"/>
<circle cx="654.95" cy="341.50" r="1.35" fill="#000"/>
<circle cx="666.67" cy="342.60" r="1.35" fill="#000"/>
<circle cx="678.40" cy="341.80" r="1.35" fill="#000"/>
<rect x="420.4" y="320.1" width="258.0" height="106.00" fill="none" stroke="#262626" stroke-width="0.8"/>
<line x1="506.40" y1="426.10" x2="506.40" y2="423.10" stroke="#262626" stroke-width="0.8"/>
<line x1="506.40" y1="320.10" x2="506.40" y2="323.10" stroke="#262626" stroke-width="0.8"/>
<line x1="592.40" y1="426.10" x2="592.40" y2="423.10" stroke="#262626" stroke-width="0.8"/>
<line x1="592.40" y1="320.10" x2="592.40" y2="323.10" stroke="#262626" stroke-width="0.8"/>
<line x1="420.40" y1="426.10" x2="423.20" y2="426.10" stroke="#262626" stroke-width="0.8"/>
<line x1="675.60" y1="426.10" x2="678.40" y2="426.10" stroke="#262626" stroke-width="0.8"/>
<text transform="translate(417.60,430.50) scale(1,1.05)" font-size="9" fill="#262626" stroke="#262626" stroke-width="0.25" text-anchor="end">0</text>
<line x1="420.40" y1="399.75" x2="423.20" y2="399.75" stroke="#262626" stroke-width="0.8"/>
<line x1="675.60" y1="399.75" x2="678.40" y2="399.75" stroke="#262626" stroke-width="0.8"/>
<text transform="translate(417.60,404.15) scale(1,1.05)" font-size="9" fill="#262626" stroke="#262626" stroke-width="0.25" text-anchor="end">5</text>
<line x1="420.40" y1="373.40" x2="423.20" y2="373.40" stroke="#262626" stroke-width="0.8"/>
<line x1="675.60" y1="373.40" x2="678.40" y2="373.40" stroke="#262626" stroke-width="0.8"/>
<text transform="translate(417.60,377.80) scale(1,1.05)" font-size="9" fill="#262626" stroke="#262626" stroke-width="0.25" text-anchor="end">10</text>
<line x1="420.40" y1="347.05" x2="423.20" y2="347.05" stroke="#262626" stroke-width="0.8"/>
<line x1="675.60" y1="347.05" x2="678.40" y2="347.05" stroke="#262626" stroke-width="0.8"/>
<text transform="translate(417.60,351.45) scale(1,1.05)" font-size="9" fill="#262626" stroke="#262626" stroke-width="0.25" text-anchor="end">15</text>
<text x="428.40" y="334.70" font-size="8.8" fill="#000" stroke="#000" stroke-width="0.25" font-weight="bold">e</text>
<path d="M431.50,348.60 L429.50,353.30 L431.50,358.00" fill="none" stroke="#555" stroke-width="0.65"/>
<text x="432.60" y="356.30" font-size="9" fill="#262626" stroke="#262626" stroke-width="0.25" font-style="italic">R</text>
<path d="M440.30,348.60 L442.30,353.30 L440.30,358.00" fill="none" stroke="#555" stroke-width="0.65"/>
<text x="447.10" y="356.30" font-size="9.3" fill="#262626" stroke="#262626" stroke-width="0.25" word-spacing="0.05">= 49 Å</text>
<g clip-path="url(#clipe)">
<path d="M601.00,368.60 L599.00,373.10 L601.00,377.60" fill="none" stroke="#555" stroke-width="0.65"/>
<text x="602.50" y="375.40" font-size="9" fill="#262626" stroke="#262626" stroke-width="0.25" font-style="italic">t</text>
<text x="605.70" y="379.80" font-size="7.4" fill="#262626" stroke="#262626" stroke-width="0.25">total</text>
<path d="M621.30,368.60 L623.30,373.10 L621.30,377.60" fill="none" stroke="#555" stroke-width="0.65"/>
<text x="628.10" y="375.40" font-size="9" fill="#262626" stroke="#262626" stroke-width="0.25" word-spacing="0.4">= 101 ± 4 ps</text>
</g>
<text transform="translate(418.00,440.90) scale(1,1.05)" font-size="9" fill="#262626" stroke="#262626" stroke-width="0.25" text-anchor="middle">10</text>
<text transform="translate(423.80,436.50) scale(1,1.05)" font-size="6.4799999999999995" fill="#262626" stroke="#262626" stroke-width="0.25">0</text>
<text transform="translate(504.00,440.90) scale(1,1.05)" font-size="9" fill="#262626" stroke="#262626" stroke-width="0.25" text-anchor="middle">10</text>
<text transform="translate(509.80,436.50) scale(1,1.05)" font-size="6.4799999999999995" fill="#262626" stroke="#262626" stroke-width="0.25">1</text>
<text transform="translate(590.00,440.90) scale(1,1.05)" font-size="9" fill="#262626" stroke="#262626" stroke-width="0.25" text-anchor="middle">10</text>
<text transform="translate(595.80,436.50) scale(1,1.05)" font-size="6.4799999999999995" fill="#262626" stroke="#262626" stroke-width="0.25">2</text>
<text transform="translate(676.00,440.90) scale(1,1.05)" font-size="9" fill="#262626" stroke="#262626" stroke-width="0.25" text-anchor="middle">10</text>
<text transform="translate(681.80,436.50) scale(1,1.05)" font-size="6.4799999999999995" fill="#262626" stroke="#262626" stroke-width="0.25">3</text>
<text x="550.5" y="454.8" font-size="10.4" fill="#262626" stroke="#262626" stroke-width="0.25" text-anchor="middle"><tspan font-style="italic">t</tspan> (ps)</text>
<text transform="translate(397.6,215.3) rotate(-90)" font-size="9.9" fill="#262626" stroke="#262626" stroke-width="0.25" text-anchor="middle">Co(Li<tspan dy="-4.3" font-size="7.4">+</tspan><tspan dy="4.3">Bz, Bz</tspan><tspan dy="-4.3" font-size="7.4">+</tspan><tspan dy="4.3">) (arb. units)</tspan></text>
<line x1="53.90" y1="402.90" x2="53.90" y2="407.50" stroke="#000" stroke-width="0.8"/>
<line x1="50.50" y1="402.90" x2="57.30" y2="402.90" stroke="#000" stroke-width="0.8"/>
<line x1="50.50" y1="407.50" x2="57.30" y2="407.50" stroke="#000" stroke-width="0.8"/>
<circle cx="54.10" cy="405.2" r="3.15" fill="#000"/>
<line x1="72.00" y1="396.80" x2="72.00" y2="401.40" stroke="#000" stroke-width="0.8"/>
<line x1="68.60" y1="396.80" x2="75.40" y2="396.80" stroke="#000" stroke-width="0.8"/>
<line x1="68.60" y1="401.40" x2="75.40" y2="401.40" stroke="#000" stroke-width="0.8"/>
<circle cx="72.20" cy="399.1" r="3.15" fill="#000"/>
<line x1="91.80" y1="390.60" x2="91.80" y2="395.20" stroke="#000" stroke-width="0.8"/>
<line x1="88.40" y1="390.60" x2="95.20" y2="390.60" stroke="#000" stroke-width="0.8"/>
<line x1="88.40" y1="395.20" x2="95.20" y2="395.20" stroke="#000" stroke-width="0.8"/>
<circle cx="92.00" cy="392.9" r="3.15" fill="#000"/>
<line x1="109.70" y1="383.10" x2="109.70" y2="387.70" stroke="#000" stroke-width="0.8"/>
<line x1="106.30" y1="383.10" x2="113.10" y2="383.10" stroke="#000" stroke-width="0.8"/>
<line x1="106.30" y1="387.70" x2="113.10" y2="387.70" stroke="#000" stroke-width="0.8"/>
<circle cx="109.90" cy="385.4" r="3.15" fill="#000"/>
<line x1="127.40" y1="386.00" x2="127.40" y2="390.60" stroke="#000" stroke-width="0.8"/>
<line x1="124.00" y1="386.00" x2="130.80" y2="386.00" stroke="#000" stroke-width="0.8"/>
<line x1="124.00" y1="390.60" x2="130.80" y2="390.60" stroke="#000" stroke-width="0.8"/>
<circle cx="127.60" cy="388.3" r="3.15" fill="#000"/>
<line x1="144.80" y1="380.30" x2="144.80" y2="384.90" stroke="#000" stroke-width="0.8"/>
<line x1="141.40" y1="380.30" x2="148.20" y2="380.30" stroke="#000" stroke-width="0.8"/>
<line x1="141.40" y1="384.90" x2="148.20" y2="384.90" stroke="#000" stroke-width="0.8"/>
<circle cx="145.00" cy="382.6" r="3.15" fill="#000"/>
<line x1="160.90" y1="371.40" x2="160.90" y2="376.00" stroke="#000" stroke-width="0.8"/>
<line x1="157.50" y1="371.40" x2="164.30" y2="371.40" stroke="#000" stroke-width="0.8"/>
<line x1="157.50" y1="376.00" x2="164.30" y2="376.00" stroke="#000" stroke-width="0.8"/>
<circle cx="161.10" cy="373.7" r="3.15" fill="#000"/>
<line x1="176.30" y1="373.20" x2="176.30" y2="377.80" stroke="#000" stroke-width="0.8"/>
<line x1="172.90" y1="373.20" x2="179.70" y2="373.20" stroke="#000" stroke-width="0.8"/>
<line x1="172.90" y1="377.80" x2="179.70" y2="377.80" stroke="#000" stroke-width="0.8"/>
<circle cx="176.50" cy="375.5" r="3.15" fill="#000"/>
<line x1="191.40" y1="355.20" x2="191.40" y2="360.80" stroke="#000" stroke-width="0.8"/>
<line x1="187.40" y1="355.20" x2="195.40" y2="355.20" stroke="#000" stroke-width="0.8"/>
<line x1="187.40" y1="360.80" x2="195.40" y2="360.80" stroke="#000" stroke-width="0.8"/>
<path d="M191.4,355.4 L193.5,358.0 L191.4,360.6 L189.3,358.0 Z" fill="none" stroke="#000" stroke-width="0.8"/>
<line x1="206.40" y1="353.20" x2="206.40" y2="358.80" stroke="#000" stroke-width="0.8"/>
<line x1="202.40" y1="353.20" x2="210.40" y2="353.20" stroke="#000" stroke-width="0.8"/>
<line x1="202.40" y1="358.80" x2="210.40" y2="358.80" stroke="#000" stroke-width="0.8"/>
<path d="M206.4,353.4 L208.5,356.0 L206.4,358.6 L204.3,356.0 Z" fill="none" stroke="#000" stroke-width="0.8"/>
<line x1="219.00" y1="343.70" x2="219.00" y2="348.90" stroke="#000" stroke-width="0.8"/>
<line x1="215.00" y1="343.70" x2="223.00" y2="343.70" stroke="#000" stroke-width="0.8"/>
<line x1="215.00" y1="348.90" x2="223.00" y2="348.90" stroke="#000" stroke-width="0.8"/>
<path d="M219.0,343.7 L221.1,346.3 L219.0,348.90000000000003 L216.9,346.3 Z" fill="none" stroke="#000" stroke-width="0.8"/>
<line x1="230.60" y1="335.50" x2="230.60" y2="342.90" stroke="#000" stroke-width="0.8"/>
<line x1="226.60" y1="335.50" x2="234.60" y2="335.50" stroke="#000" stroke-width="0.8"/>
<line x1="226.60" y1="342.90" x2="234.60" y2="342.90" stroke="#000" stroke-width="0.8"/>
<path d="M230.6,336.59999999999997 L232.7,339.2 L230.6,341.8 L228.5,339.2 Z" fill="none" stroke="#000" stroke-width="0.8"/>
<line x1="244.80" y1="320.30" x2="244.80" y2="327.50" stroke="#000" stroke-width="0.8"/>
<line x1="240.80" y1="320.30" x2="248.80" y2="320.30" stroke="#000" stroke-width="0.8"/>
<line x1="240.80" y1="327.50" x2="248.80" y2="327.50" stroke="#000" stroke-width="0.8"/>
<path d="M244.8,321.29999999999995 L246.9,323.9 L244.8,326.5 L242.70000000000002,323.9 Z" fill="none" stroke="#000" stroke-width="0.8"/>
<line x1="260.60" y1="302.20" x2="260.60" y2="309.00" stroke="#000" stroke-width="0.8"/>
<line x1="256.60" y1="302.20" x2="264.60" y2="302.20" stroke="#000" stroke-width="0.8"/>
<line x1="256.60" y1="309.00" x2="264.60" y2="309.00" stroke="#000" stroke-width="0.8"/>
<path d="M260.6,303.0 L262.70000000000005,305.6 L260.6,308.20000000000005 L258.5,305.6 Z" fill="none" stroke="#000" stroke-width="0.8"/>
<line x1="274.30" y1="267.20" x2="274.30" y2="279.40" stroke="#000" stroke-width="0.8"/>
<line x1="270.30" y1="267.20" x2="278.30" y2="267.20" stroke="#000" stroke-width="0.8"/>
<line x1="270.30" y1="279.40" x2="278.30" y2="279.40" stroke="#000" stroke-width="0.8"/>
<path d="M274.3,270.7 L276.40000000000003,273.3 L274.3,275.90000000000003 L272.2,273.3 Z" fill="none" stroke="#000" stroke-width="0.8"/>
<line x1="34.3" y1="408.1" x2="291.5" y2="345.7" stroke="#0000ff" stroke-width="1" stroke-dasharray="10.2 6"/>
<rect x="34.3" y="244.2" width="257.20" height="182.00" fill="none" stroke="#262626" stroke-width="0.8"/>
<text transform="translate(33.90,438.30) scale(1,1.05)" font-size="9" fill="#262626" stroke="#262626" stroke-width="0.25" text-anchor="middle">32</text>
<line x1="62.88" y1="426.20" x2="62.88" y2="423.40" stroke="#262626" stroke-width="0.8"/>
<line x1="62.88" y1="244.20" x2="62.88" y2="247.00" stroke="#262626" stroke-width="0.8"/>
<text transform="translate(62.48,438.30) scale(1,1.05)" font-size="9" fill="#262626" stroke="#262626" stroke-width="0.25" text-anchor="middle">34</text>
<line x1="91.46" y1="426.20" x2="91.46" y2="423.40" stroke="#262626" stroke-width="0.8"/>
<line x1="91.46" y1="244.20" x2="91.46" y2="247.00" stroke="#262626" stroke-width="0.8"/>
<text transform="translate(91.06,438.30) scale(1,1.05)" font-size="9" fill="#262626" stroke="#262626" stroke-width="0.25" text-anchor="middle">36</text>
<line x1="120.03" y1="426.20" x2="120.03" y2="423.40" stroke="#262626" stroke-width="0.8"/>
<line x1="120.03" y1="244.20" x2="120.03" y2="247.00" stroke="#262626" stroke-width="0.8"/>
<text transform="translate(119.63,438.30) scale(1,1.05)" font-size="9" fill="#262626" stroke="#262626" stroke-width="0.25" text-anchor="middle">38</text>
<line x1="148.61" y1="426.20" x2="148.61" y2="423.40" stroke="#262626" stroke-width="0.8"/>
<line x1="148.61" y1="244.20" x2="148.61" y2="247.00" stroke="#262626" stroke-width="0.8"/>
<text transform="translate(148.21,438.30) scale(1,1.05)" font-size="9" fill="#262626" stroke="#262626" stroke-width="0.25" text-anchor="middle">40</text>
<line x1="177.19" y1="426.20" x2="177.19" y2="423.40" stroke="#262626" stroke-width="0.8"/>
<line x1="177.19" y1="244.20" x2="177.19" y2="247.00" stroke="#262626" stroke-width="0.8"/>
<text transform="translate(176.79,438.30) scale(1,1.05)" font-size="9" fill="#262626" stroke="#262626" stroke-width="0.25" text-anchor="middle">42</text>
<line x1="205.77" y1="426.20" x2="205.77" y2="423.40" stroke="#262626" stroke-width="0.8"/>
<line x1="205.77" y1="244.20" x2="205.77" y2="247.00" stroke="#262626" stroke-width="0.8"/>
<text transform="translate(205.37,438.30) scale(1,1.05)" font-size="9" fill="#262626" stroke="#262626" stroke-width="0.25" text-anchor="middle">44</text>
<line x1="234.34" y1="426.20" x2="234.34" y2="423.40" stroke="#262626" stroke-width="0.8"/>
<line x1="234.34" y1="244.20" x2="234.34" y2="247.00" stroke="#262626" stroke-width="0.8"/>
<text transform="translate(233.94,438.30) scale(1,1.05)" font-size="9" fill="#262626" stroke="#262626" stroke-width="0.25" text-anchor="middle">46</text>
<line x1="262.92" y1="426.20" x2="262.92" y2="423.40" stroke="#262626" stroke-width="0.8"/>
<line x1="262.92" y1="244.20" x2="262.92" y2="247.00" stroke="#262626" stroke-width="0.8"/>
<text transform="translate(262.52,438.30) scale(1,1.05)" font-size="9" fill="#262626" stroke="#262626" stroke-width="0.25" text-anchor="middle">48</text>
<text transform="translate(291.10,438.30) scale(1,1.05)" font-size="9" fill="#262626" stroke="#262626" stroke-width="0.25" text-anchor="middle">50</text>
<text transform="translate(31.40,430.10) scale(1,1.05)" font-size="9" fill="#262626" stroke="#262626" stroke-width="0.25" text-anchor="end">0</text>
<line x1="34.30" y1="395.87" x2="37.10" y2="395.87" stroke="#262626" stroke-width="0.8"/>
<line x1="288.70" y1="395.87" x2="291.50" y2="395.87" stroke="#262626" stroke-width="0.8"/>
<text transform="translate(31.40,399.77) scale(1,1.05)" font-size="9" fill="#262626" stroke="#262626" stroke-width="0.25" text-anchor="end">20</text>
<line x1="34.30" y1="365.53" x2="37.10" y2="365.53" stroke="#262626" stroke-width="0.8"/>
<line x1="288.70" y1="365.53" x2="291.50" y2="365.53" stroke="#262626" stroke-width="0.8"/>
<text transform="translate(31.40,369.43) scale(1,1.05)" font-size="9" fill="#262626" stroke="#262626" stroke-width="0.25" text-anchor="end">40</text>
<line x1="34.30" y1="335.20" x2="37.10" y2="335.20" stroke="#262626" stroke-width="0.8"/>
<line x1="288.70" y1="335.20" x2="291.50" y2="335.20" stroke="#262626" stroke-width="0.8"/>
<text transform="translate(31.40,339.10) scale(1,1.05)" font-size="9" fill="#262626" stroke="#262626" stroke-width="0.25" text-anchor="end">60</text>
<line x1="34.30" y1="304.87" x2="37.10" y2="304.87" stroke="#262626" stroke-width="0.8"/>
<line x1="288.70" y1="304.87" x2="291.50" y2="304.87" stroke="#262626" stroke-width="0.8"/>
<text transform="translate(31.40,308.77) scale(1,1.05)" font-size="9" fill="#262626" stroke="#262626" stroke-width="0.25" text-anchor="end">80</text>
<line x1="34.30" y1="274.53" x2="37.10" y2="274.53" stroke="#262626" stroke-width="0.8"/>
<line x1="288.70" y1="274.53" x2="291.50" y2="274.53" stroke="#262626" stroke-width="0.8"/>
<text transform="translate(31.40,278.43) scale(1,1.05)" font-size="9" fill="#262626" stroke="#262626" stroke-width="0.25" text-anchor="end">100</text>
<text transform="translate(31.40,248.10) scale(1,1.05)" font-size="9" fill="#262626" stroke="#262626" stroke-width="0.25" text-anchor="end">120</text>
<text x="42.20" y="260.60" font-size="9" fill="#000" stroke="#000" stroke-width="0.25" font-weight="bold">f</text>
<line x1="118.90" y1="260.40" x2="118.90" y2="270.40" stroke="#000" stroke-width="0.8"/>
<line x1="114.70" y1="260.40" x2="123.10" y2="260.40" stroke="#000" stroke-width="0.8"/>
<line x1="114.70" y1="270.40" x2="123.10" y2="270.40" stroke="#000" stroke-width="0.8"/>
<circle cx="118.9" cy="265.4" r="3.1" fill="#000"/>
<line x1="118.90" y1="277.10" x2="118.90" y2="287.10" stroke="#000" stroke-width="0.8"/>
<line x1="114.70" y1="277.10" x2="123.10" y2="277.10" stroke="#000" stroke-width="0.8"/>
<line x1="114.70" y1="287.10" x2="123.10" y2="287.10" stroke="#000" stroke-width="0.8"/>
<path d="M118.9,279.5 L121.0,282.1 L118.9,284.70000000000005 L116.80000000000001,282.1 Z" fill="none" stroke="#000" stroke-width="0.8"/>
<line x1="98.20" y1="297.40" x2="139.00" y2="297.40" stroke="#0000ff" stroke-width="1" stroke-dasharray="10.2 6"/>
<path d="M143.80,261.00 L141.80,265.50 L143.80,270.00" fill="none" stroke="#555" stroke-width="0.65"/>
<text x="145.30" y="267.80" font-size="9" fill="#262626" stroke="#262626" stroke-width="0.25" font-style="italic">t</text>
<text x="148.50" y="272.20" font-size="7.4" fill="#262626" stroke="#262626" stroke-width="0.25">total</text>
<path d="M164.10,261.00 L166.10,265.50 L164.10,270.00" fill="none" stroke="#555" stroke-width="0.65"/>
<text x="172.00" y="267.80" font-size="9" fill="#262626" stroke="#262626" stroke-width="0.25" word-spacing="0.4">used in fit</text>
<path d="M143.80,277.90 L141.80,282.40 L143.80,286.90" fill="none" stroke="#555" stroke-width="0.65"/>
<text x="145.30" y="284.70" font-size="9" fill="#262626" stroke="#262626" stroke-width="0.25" font-style="italic">t</text>
<text x="148.50" y="289.10" font-size="7.4" fill="#262626" stroke="#262626" stroke-width="0.25">total</text>
<path d="M164.10,277.90 L166.10,282.40 L164.10,286.90" fill="none" stroke="#555" stroke-width="0.65"/>
<text x="172.00" y="284.70" font-size="9" fill="#262626" stroke="#262626" stroke-width="0.25" word-spacing="0.4">not used in fit</text>
<text x="142.70" y="301.60" font-size="9" fill="#262626" stroke="#262626" stroke-width="0.25">Linear fit</text>
<path d="M149.20,444.50 L147.20,449.70 L149.20,454.90" fill="none" stroke="#555" stroke-width="0.65"/>
<text x="150.40" y="453.10" font-size="10.4" fill="#262626" stroke="#262626" stroke-width="0.25" font-style="italic">R</text>
<path d="M158.70,444.50 L160.70,449.70 L158.70,454.90" fill="none" stroke="#555" stroke-width="0.65"/>
<text x="165.20" y="453.10" font-size="10.4" fill="#262626" stroke="#262626" stroke-width="0.25">(Å)</text>
<g transform="translate(0,357.6) rotate(-90)">
<path d="M2.00,-0.10 L0.00,5.00 L2.00,10.10" fill="none" stroke="#555" stroke-width="0.65"/>
<text x="3.00" y="8.20" font-size="10.4" fill="#262626" stroke="#262626" stroke-width="0.25" font-style="italic">t</text>
<text x="5.50" y="12.60" font-size="8.6" fill="#262626" stroke="#262626" stroke-width="0.25">total</text>
<path d="M22.20,-0.10 L24.20,5.00 L22.20,10.10" fill="none" stroke="#555" stroke-width="0.65"/>
<text x="29.30" y="8.20" font-size="10.4" fill="#262626" stroke="#262626" stroke-width="0.25" word-spacing="0.4">(ps)</text>
</g>
</g>
</svg></body></html>
